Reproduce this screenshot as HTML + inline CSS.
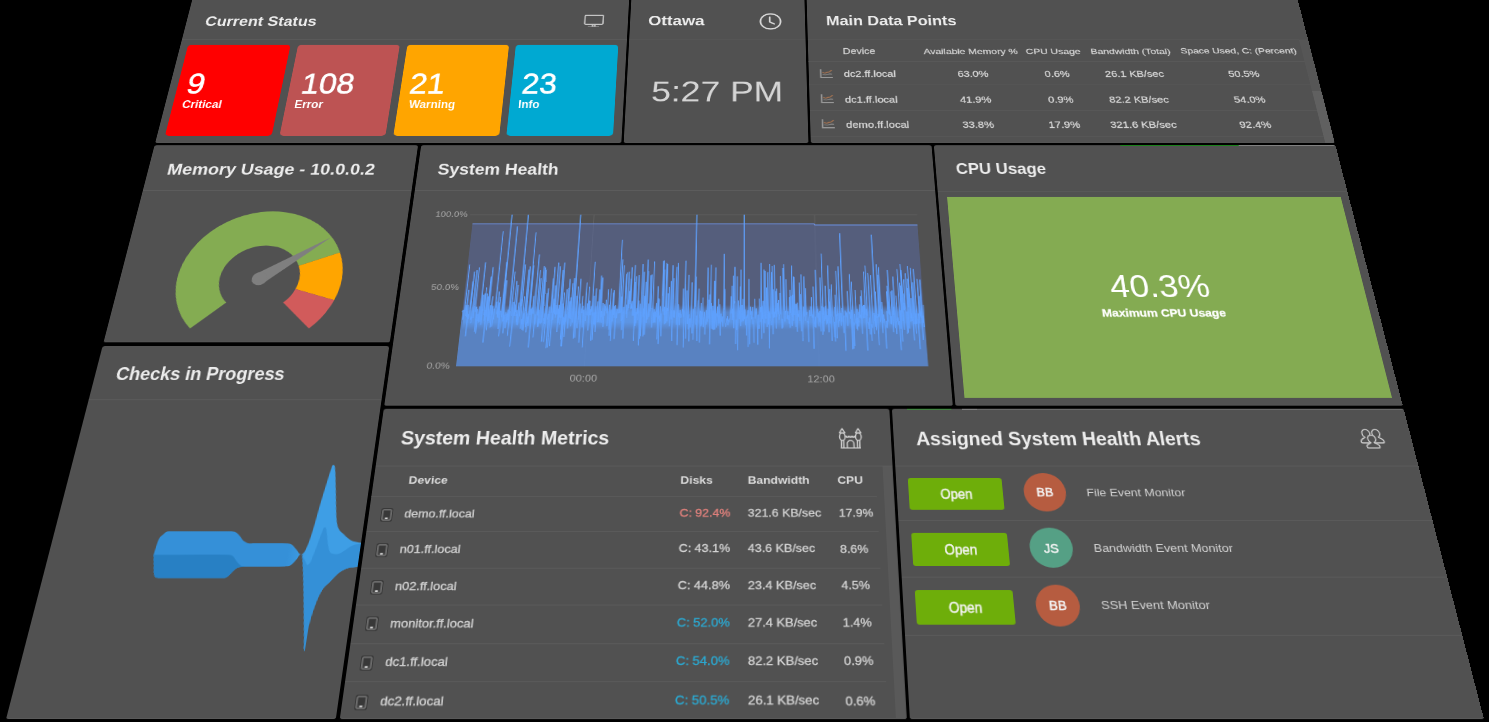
<!DOCTYPE html>
<html><head><meta charset="utf-8">
<style>
html,body{margin:0;padding:0;background:#000;width:1489px;height:722px;overflow:hidden;}
#flat{position:absolute;left:0;top:0;width:1489px;height:976px;overflow:hidden;transform-origin:0 0;transform:matrix3d(0.742923614,0,0,0,-0.192581104,0.552022748,0,-0.000258498126,0,0,1,0,191.521908,-0.337533928,0,1);font-family:"Liberation Sans",sans-serif;}
.p{position:absolute;background:#515151;overflow:hidden;border-radius:3px;box-shadow:inset 0 -1px 0 #5a5a5a;}
.hd{position:absolute;left:0;right:0;top:0;border-bottom:1px solid #5d5d5d;}
.a{position:absolute;white-space:nowrap;}
</style></head><body>
<div id="flat">
<div class="p" id="cs" style="left:1.00px;top:-6.00px;width:587.60px;height:248.70px;">
<div class="hd" style="height:76.30px"></div>
<div class="a" style="left:24.88px;top:30.61px;font-size:24.50px;line-height:27.37px;font-weight:bold;color:#ececec;transform:scaleX(0.872);transform-origin:left;">Current Status</div>
<svg class="a" style="left:528.00px;top:31.00px" width="30" height="26" viewBox="0 0 30 26"><rect x="2.6" y="3" width="24.3" height="16" rx="1.2" fill="none" stroke="#c4c4c4" stroke-width="1.9"/><rect x="7" y="22" width="15" height="1.5" fill="#8c8c8c"/><rect x="12.2" y="19.5" width="2.3" height="4" fill="#c4c4c4"/><rect x="15.2" y="19.5" width="2.3" height="4" fill="#c4c4c4"/></svg>
<div class="a" style="left:10.00px;top:85.90px;width:134.80px;height:152.30px;background:#ff0000;border-radius:5px"></div>
<div class="a" style="left:22.48px;top:125.30px;font-size:48.50px;line-height:54.17px;font-weight:normal;color:#ffffff;transform:scaleX(0.845);transform-origin:left;-webkit-text-stroke:0.9px #ffffff;">9</div>
<div class="a" style="left:22.20px;top:178.34px;font-size:17.80px;line-height:19.88px;font-weight:bold;color:#ffffff;transform:scaleX(0.840);transform-origin:left;">Critical</div>
<div class="a" style="left:154.50px;top:85.90px;width:134.70px;height:152.30px;background:#bd5353;border-radius:5px"></div>
<div class="a" style="left:170.29px;top:125.30px;font-size:48.50px;line-height:54.17px;font-weight:normal;color:#ffffff;transform:scaleX(0.845);transform-origin:left;-webkit-text-stroke:0.9px #ffffff;">108</div>
<div class="a" style="left:165.90px;top:178.01px;font-size:17.80px;line-height:19.88px;font-weight:bold;color:#ffffff;transform:scaleX(0.840);transform-origin:left;">Error</div>
<div class="a" style="left:299.00px;top:85.90px;width:133.60px;height:152.30px;background:#ffa500;border-radius:5px"></div>
<div class="a" style="left:309.69px;top:124.97px;font-size:48.50px;line-height:54.17px;font-weight:normal;color:#ffffff;transform:scaleX(0.845);transform-origin:left;-webkit-text-stroke:0.9px #ffffff;">21</div>
<div class="a" style="left:312.62px;top:177.52px;font-size:17.80px;line-height:19.88px;font-weight:bold;color:#ffffff;transform:scaleX(0.840);transform-origin:left;">Warning</div>
<div class="a" style="left:441.50px;top:85.90px;width:135.50px;height:152.30px;background:#00a9d2;border-radius:5px"></div>
<div class="a" style="left:454.84px;top:124.97px;font-size:48.50px;line-height:54.17px;font-weight:normal;color:#ffffff;transform:scaleX(0.845);transform-origin:left;-webkit-text-stroke:0.9px #ffffff;">23</div>
<div class="a" style="left:453.18px;top:177.52px;font-size:17.80px;line-height:19.88px;font-weight:bold;color:#ffffff;transform:scaleX(0.840);transform-origin:left;">Info</div>
</div>
<div class="p" id="ott" style="left:592.00px;top:-6.00px;width:233.00px;height:248.70px;">
<div class="hd" style="height:76.50px"></div>
<div class="a" style="left:24.05px;top:30.08px;font-size:24.50px;line-height:27.37px;font-weight:bold;color:#ececec;transform:scaleX(0.918);transform-origin:left;">Ottawa</div>
<svg class="a" style="left:170.90px;top:29.00px" width="32" height="32" viewBox="0 0 32 32"><circle cx="16" cy="16" r="13.4" fill="none" stroke="#d8d8d8" stroke-width="2.3"/><path d="M15 8.5 V17 L21 20.5" fill="none" stroke="#d8d8d8" stroke-width="2.3" stroke-linecap="round" stroke-linejoin="round"/></svg>
<div class="a" style="left:32.49px;top:138.76px;font-size:48.26px;line-height:53.91px;font-weight:normal;color:#d4d4d4;transform:scaleX(0.947);transform-origin:left;">5:27 PM</div>
</div>
<div class="p" id="mdp" style="left:828.00px;top:-6.00px;width:661.00px;height:248.70px;">
<div class="hd" style="height:76.90px"></div>
<div class="a" style="left:25.17px;top:29.73px;font-size:24.50px;line-height:27.37px;font-weight:bold;color:#ececec;transform:scaleX(0.880);transform-origin:left;">Main Data Points</div>
<div class="a" style="left:45.60px;top:89.53px;font-size:14.00px;line-height:15.64px;font-weight:normal;color:#d0d0d0;-webkit-text-stroke:0.35px #d4d4d4;">Device</div>
<div class="a" style="left:-286.50px;width:1000px;text-align:center;top:89.89px;font-size:13.60px;line-height:15.19px;font-weight:normal;color:#d0d0d0;-webkit-text-stroke:0.35px #d4d4d4;">Available Memory %</div>
<div class="a" style="left:-178.00px;width:1000px;text-align:center;top:89.89px;font-size:13.60px;line-height:15.19px;font-weight:normal;color:#d0d0d0;-webkit-text-stroke:0.35px #d4d4d4;">CPU Usage</div>
<div class="a" style="left:-76.40px;width:1000px;text-align:center;top:89.89px;font-size:13.60px;line-height:15.19px;font-weight:normal;color:#d0d0d0;-webkit-text-stroke:0.35px #d4d4d4;">Bandwidth (Total)</div>
<div class="a" style="left:65.80px;width:1000px;text-align:center;top:90.07px;font-size:13.40px;line-height:14.97px;font-weight:normal;color:#d0d0d0;-webkit-text-stroke:0.35px #d4d4d4;">Space Used, C: (Percent)</div>
<div class="a" style="left:0.00px;top:113.50px;width:649.00px;height:1px;background:#5b5b5b"></div>
<div class="a" style="left:0.00px;top:153.50px;width:649.00px;height:1px;background:#5b5b5b"></div>
<div class="a" style="left:0.00px;top:195.50px;width:649.00px;height:1px;background:#5b5b5b"></div>
<div class="a" style="left:0.00px;top:238.00px;width:649.00px;height:1px;background:#5b5b5b"></div>
<svg class="a" style="left:13.50px;top:126.70px" width="18" height="17" viewBox="0 0 18 17"><path d="M1.6 1.2 V15 H17" fill="none" stroke="#979797" stroke-width="1.8"/><path d="M3.6 6.6 L7 7.8 L10 6.2 L12.4 5.8 L16 2.6" fill="none" stroke="#a07050" stroke-width="1.6" stroke-linejoin="round"/><path d="M3.8 10.2 L8 10.6 L10.2 9.9 L13.4 9.0 L16.2 9.4" fill="none" stroke="#888888" stroke-width="1.4" stroke-linejoin="round"/></svg>
<div class="a" style="left:45.60px;top:129.15px;font-size:14.20px;line-height:15.86px;font-weight:normal;color:#d8d8d8;-webkit-text-stroke:0.35px #d4d4d4;">dc2.ff.local</div>
<div class="a" style="left:-286.50px;width:1000px;text-align:center;top:129.15px;font-size:14.20px;line-height:15.86px;font-weight:normal;color:#d8d8d8;-webkit-text-stroke:0.35px #d4d4d4;">63.0%</div>
<div class="a" style="left:-177.00px;width:1000px;text-align:center;top:129.15px;font-size:14.20px;line-height:15.86px;font-weight:normal;color:#d8d8d8;-webkit-text-stroke:0.35px #d4d4d4;">0.6%</div>
<div class="a" style="left:-76.40px;width:1000px;text-align:center;top:129.15px;font-size:14.20px;line-height:15.86px;font-weight:normal;color:#d8d8d8;-webkit-text-stroke:0.35px #d4d4d4;">26.1 KB/sec</div>
<div class="a" style="left:65.80px;width:1000px;text-align:center;top:129.15px;font-size:14.20px;line-height:15.86px;font-weight:normal;color:#d8d8d8;-webkit-text-stroke:0.35px #d4d4d4;">50.5%</div>
<svg class="a" style="left:13.50px;top:169.10px" width="18" height="17" viewBox="0 0 18 17"><path d="M1.6 1.2 V15 H17" fill="none" stroke="#979797" stroke-width="1.8"/><path d="M3.6 6.6 L7 7.8 L10 6.2 L12.4 5.8 L16 2.6" fill="none" stroke="#a07050" stroke-width="1.6" stroke-linejoin="round"/><path d="M3.8 10.2 L8 10.6 L10.2 9.9 L13.4 9.0 L16.2 9.4" fill="none" stroke="#888888" stroke-width="1.4" stroke-linejoin="round"/></svg>
<div class="a" style="left:45.60px;top:171.55px;font-size:14.20px;line-height:15.86px;font-weight:normal;color:#d8d8d8;-webkit-text-stroke:0.35px #d4d4d4;">dc1.ff.local</div>
<div class="a" style="left:-286.50px;width:1000px;text-align:center;top:171.55px;font-size:14.20px;line-height:15.86px;font-weight:normal;color:#d8d8d8;-webkit-text-stroke:0.35px #d4d4d4;">41.9%</div>
<div class="a" style="left:-177.00px;width:1000px;text-align:center;top:171.55px;font-size:14.20px;line-height:15.86px;font-weight:normal;color:#d8d8d8;-webkit-text-stroke:0.35px #d4d4d4;">0.9%</div>
<div class="a" style="left:-76.40px;width:1000px;text-align:center;top:171.55px;font-size:14.20px;line-height:15.86px;font-weight:normal;color:#d8d8d8;-webkit-text-stroke:0.35px #d4d4d4;">82.2 KB/sec</div>
<div class="a" style="left:65.80px;width:1000px;text-align:center;top:171.55px;font-size:14.20px;line-height:15.86px;font-weight:normal;color:#d8d8d8;-webkit-text-stroke:0.35px #d4d4d4;">54.0%</div>
<svg class="a" style="left:13.50px;top:210.40px" width="18" height="17" viewBox="0 0 18 17"><path d="M1.6 1.2 V15 H17" fill="none" stroke="#979797" stroke-width="1.8"/><path d="M3.6 6.6 L7 7.8 L10 6.2 L12.4 5.8 L16 2.6" fill="none" stroke="#a07050" stroke-width="1.6" stroke-linejoin="round"/><path d="M3.8 10.2 L8 10.6 L10.2 9.9 L13.4 9.0 L16.2 9.4" fill="none" stroke="#888888" stroke-width="1.4" stroke-linejoin="round"/></svg>
<div class="a" style="left:45.60px;top:212.85px;font-size:14.20px;line-height:15.86px;font-weight:normal;color:#d8d8d8;-webkit-text-stroke:0.35px #d4d4d4;">demo.ff.local</div>
<div class="a" style="left:-286.50px;width:1000px;text-align:center;top:212.85px;font-size:14.20px;line-height:15.86px;font-weight:normal;color:#d8d8d8;-webkit-text-stroke:0.35px #d4d4d4;">33.8%</div>
<div class="a" style="left:-177.00px;width:1000px;text-align:center;top:212.85px;font-size:14.20px;line-height:15.86px;font-weight:normal;color:#d8d8d8;-webkit-text-stroke:0.35px #d4d4d4;">17.9%</div>
<div class="a" style="left:-76.40px;width:1000px;text-align:center;top:212.85px;font-size:14.20px;line-height:15.86px;font-weight:normal;color:#d8d8d8;-webkit-text-stroke:0.35px #d4d4d4;">321.6 KB/sec</div>
<div class="a" style="left:65.80px;width:1000px;text-align:center;top:212.85px;font-size:14.20px;line-height:15.86px;font-weight:normal;color:#d8d8d8;-webkit-text-stroke:0.35px #d4d4d4;">92.4%</div>
<div class="a" style="left:649.00px;top:77.00px;width:12px;height:88.00px;background:#565656"></div>
<div class="a" style="left:649.00px;top:165.00px;width:12px;height:90.00px;background:#606060"></div>
</div>
<div class="p" id="mem" style="left:1.00px;top:246.50px;width:331.80px;height:288.80px;">
<div class="hd" style="height:70.00px"></div>
<div class="a" style="left:23.50px;top:24.28px;font-size:24.50px;line-height:27.37px;font-weight:bold;color:#ececec;transform:scaleX(0.909);transform-origin:left;">Memory Usage - 10.0.0.2</div>
<svg class="a" style="left:0;top:0" width="340" height="300"><path d="M96.70 269.30 A98.00 98.00 0 1 1 256.54 162.50 L209.88 181.82 A47.50 47.50 0 1 0 132.41 233.59 Z" fill="#84ac52"/><path d="M256.54 162.50 A98.00 98.00 0 0 1 259.20 230.28 L211.18 214.68 A47.50 47.50 0 0 0 209.88 181.82 Z" fill="#ffa500"/><path d="M259.20 230.28 A98.00 98.00 0 0 1 235.30 269.30 L199.59 233.59 A47.50 47.50 0 0 0 211.18 214.68 Z" fill="#d15b5b"/><path d="M171.28 206.79 L242.54 140.41 L160.72 193.21 Z" fill="#7f7f7f"/><circle cx="166.00" cy="200.00" r="9.2" fill="#7f7f7f"/></svg>
</div>
<div class="p" id="sh" style="left:337.00px;top:246.50px;width:643.00px;height:371.50px;">
<div class="hd" style="height:70.90px"></div>
<div class="a" style="left:24.66px;top:24.43px;font-size:24.50px;line-height:27.37px;font-weight:bold;color:#ececec;transform:scaleX(0.892);transform-origin:left;">System Health</div>
<svg class="a" style="left:0;top:0" width="650" height="380"><line x1="71.7" y1="106.90" x2="618.5" y2="106.90" stroke="#5e5e5e" stroke-width="1"/><line x1="223.50" y1="106.90" x2="223.50" y2="319.90" stroke="#606060" stroke-width="1"/><line x1="493.00" y1="106.90" x2="493.00" y2="319.90" stroke="#606060" stroke-width="1"/><path d="M76.0 319.90 L76.0 120.53 L77.0 120.53 L78.0 120.53 L79.0 120.53 L80.0 120.53 L81.0 120.53 L82.0 120.53 L83.0 120.53 L84.0 120.53 L85.0 120.53 L86.0 120.53 L87.0 120.53 L88.0 120.53 L89.0 120.53 L90.0 120.53 L91.0 120.53 L92.0 120.53 L93.0 120.53 L94.0 120.53 L95.0 120.53 L96.0 120.53 L97.0 120.53 L98.0 120.53 L99.0 120.53 L100.0 120.53 L101.0 120.53 L102.0 120.53 L103.0 120.53 L104.0 120.53 L105.0 120.53 L106.0 120.53 L107.0 120.53 L108.0 120.53 L109.0 120.53 L110.0 120.53 L111.0 120.53 L112.0 120.53 L113.0 120.53 L114.0 120.53 L115.0 120.53 L116.0 120.53 L117.0 120.53 L118.0 120.53 L119.0 120.53 L120.0 120.53 L121.0 120.53 L122.0 120.53 L123.0 120.53 L124.0 120.53 L125.0 120.53 L126.0 120.53 L127.0 120.53 L128.0 120.53 L129.0 120.53 L130.0 120.53 L131.0 120.53 L132.0 120.53 L133.0 120.53 L134.0 120.53 L135.0 120.53 L136.0 120.53 L137.0 120.53 L138.0 120.53 L139.0 120.53 L140.0 120.53 L141.0 120.53 L142.0 120.53 L143.0 120.53 L144.0 120.53 L145.0 120.53 L146.0 120.53 L147.0 120.53 L148.0 120.53 L149.0 120.53 L150.0 120.53 L151.0 120.53 L152.0 120.53 L153.0 120.53 L154.0 120.53 L155.0 120.53 L156.0 120.53 L157.0 120.53 L158.0 120.53 L159.0 120.53 L160.0 120.53 L161.0 120.53 L162.0 120.53 L163.0 120.53 L164.0 120.53 L165.0 120.53 L166.0 120.53 L167.0 120.53 L168.0 120.53 L169.0 120.53 L170.0 120.53 L171.0 120.53 L172.0 120.53 L173.0 120.53 L174.0 120.53 L175.0 120.53 L176.0 120.53 L177.0 120.53 L178.0 120.53 L179.0 120.53 L180.0 120.53 L181.0 120.53 L182.0 120.53 L183.0 120.53 L184.0 120.53 L185.0 120.53 L186.0 120.53 L187.0 120.53 L188.0 120.53 L189.0 120.53 L190.0 120.53 L191.0 120.53 L192.0 120.53 L193.0 120.53 L194.0 120.53 L195.0 120.53 L196.0 120.53 L197.0 120.53 L198.0 120.53 L199.0 120.53 L200.0 120.53 L201.0 120.53 L202.0 120.53 L203.0 120.53 L204.0 120.53 L205.0 120.53 L206.0 120.53 L207.0 120.53 L208.0 120.53 L209.0 120.53 L210.0 120.53 L211.0 120.53 L212.0 120.53 L213.0 120.53 L214.0 120.53 L215.0 120.53 L216.0 120.53 L217.0 120.53 L218.0 120.53 L219.0 120.53 L220.0 120.53 L221.0 120.53 L222.0 120.53 L223.0 120.53 L224.0 120.53 L225.0 120.53 L226.0 120.53 L227.0 120.53 L228.0 120.53 L229.0 120.53 L230.0 120.53 L231.0 120.53 L232.0 120.53 L233.0 120.53 L234.0 120.53 L235.0 120.53 L236.0 120.53 L237.0 120.53 L238.0 120.53 L239.0 120.53 L240.0 120.53 L241.0 120.53 L242.0 120.53 L243.0 120.53 L244.0 120.53 L245.0 120.53 L246.0 120.53 L247.0 120.53 L248.0 120.53 L249.0 120.53 L250.0 120.53 L251.0 120.53 L252.0 120.53 L253.0 120.53 L254.0 120.53 L255.0 120.53 L256.0 120.53 L257.0 120.53 L258.0 120.53 L259.0 120.53 L260.0 120.53 L261.0 120.53 L262.0 120.53 L263.0 120.53 L264.0 120.53 L265.0 120.53 L266.0 120.53 L267.0 120.53 L268.0 120.53 L269.0 120.53 L270.0 120.53 L271.0 120.53 L272.0 120.53 L273.0 120.53 L274.0 120.53 L275.0 120.53 L276.0 120.53 L277.0 120.53 L278.0 120.53 L279.0 120.53 L280.0 120.53 L281.0 120.53 L282.0 120.53 L283.0 120.53 L284.0 120.53 L285.0 120.53 L286.0 120.53 L287.0 120.53 L288.0 120.53 L289.0 120.53 L290.0 120.53 L291.0 120.53 L292.0 120.53 L293.0 120.53 L294.0 120.53 L295.0 120.53 L296.0 120.53 L297.0 120.53 L298.0 120.53 L299.0 120.53 L300.0 120.53 L301.0 120.53 L302.0 120.53 L303.0 120.53 L304.0 120.53 L305.0 120.53 L306.0 120.53 L307.0 120.53 L308.0 120.53 L309.0 120.53 L310.0 120.53 L311.0 120.53 L312.0 120.53 L313.0 120.53 L314.0 120.53 L315.0 120.53 L316.0 120.53 L317.0 120.53 L318.0 120.53 L319.0 120.53 L320.0 120.53 L321.0 120.53 L322.0 120.53 L323.0 120.53 L324.0 120.53 L325.0 120.53 L326.0 120.53 L327.0 120.53 L328.0 120.53 L329.0 120.53 L330.0 120.53 L331.0 120.53 L332.0 120.53 L333.0 120.53 L334.0 120.53 L335.0 120.53 L336.0 120.53 L337.0 120.53 L338.0 120.53 L339.0 120.53 L340.0 120.53 L341.0 120.53 L342.0 120.53 L343.0 120.53 L344.0 120.53 L345.0 120.53 L346.0 120.53 L347.0 120.53 L348.0 120.53 L349.0 120.53 L350.0 120.53 L351.0 120.53 L352.0 120.53 L353.0 120.53 L354.0 120.53 L355.0 120.53 L356.0 120.53 L357.0 120.53 L358.0 120.53 L359.0 120.53 L360.0 120.53 L361.0 120.53 L362.0 120.53 L363.0 120.53 L364.0 120.53 L365.0 120.53 L366.0 120.53 L367.0 120.53 L368.0 120.53 L369.0 120.53 L370.0 120.53 L371.0 120.53 L372.0 120.53 L373.0 120.53 L374.0 120.53 L375.0 120.53 L376.0 120.53 L377.0 120.53 L378.0 120.53 L379.0 120.53 L380.0 120.53 L381.0 120.53 L382.0 120.53 L383.0 120.53 L384.0 120.53 L385.0 120.53 L386.0 120.53 L387.0 120.53 L388.0 120.53 L389.0 120.53 L390.0 120.53 L391.0 120.53 L392.0 120.53 L393.0 120.53 L394.0 120.53 L395.0 120.53 L396.0 120.53 L397.0 120.53 L398.0 120.53 L399.0 120.53 L400.0 120.53 L401.0 120.53 L402.0 120.53 L403.0 120.53 L404.0 120.53 L405.0 120.53 L406.0 120.53 L407.0 120.53 L408.0 120.53 L409.0 120.53 L410.0 120.53 L411.0 120.53 L412.0 120.53 L413.0 120.53 L414.0 120.53 L415.0 120.53 L416.0 120.53 L417.0 120.53 L418.0 120.53 L419.0 120.53 L420.0 120.53 L421.0 120.53 L422.0 120.53 L423.0 120.53 L424.0 120.53 L425.0 120.53 L426.0 120.53 L427.0 120.53 L428.0 120.53 L429.0 120.53 L430.0 120.53 L431.0 120.53 L432.0 120.53 L433.0 120.53 L434.0 120.53 L435.0 120.53 L436.0 120.53 L437.0 120.53 L438.0 120.53 L439.0 120.53 L440.0 120.53 L441.0 120.53 L442.0 120.53 L443.0 120.53 L444.0 120.53 L445.0 120.53 L446.0 120.53 L447.0 120.53 L448.0 120.53 L449.0 120.53 L450.0 120.53 L451.0 120.53 L452.0 120.53 L453.0 120.53 L454.0 120.53 L455.0 120.53 L456.0 120.53 L457.0 120.53 L458.0 120.53 L459.0 120.53 L460.0 120.53 L461.0 120.53 L462.0 120.53 L463.0 120.53 L464.0 120.53 L465.0 120.53 L466.0 120.53 L467.0 120.53 L468.0 120.53 L469.0 120.53 L470.0 120.53 L471.0 120.53 L472.0 120.53 L473.0 120.53 L474.0 120.53 L475.0 120.53 L476.0 120.53 L477.0 120.53 L478.0 120.53 L479.0 120.53 L480.0 120.53 L481.0 120.53 L482.0 120.53 L483.0 120.53 L484.0 120.53 L485.0 120.53 L486.0 120.53 L487.0 120.53 L488.0 120.53 L489.0 120.53 L490.0 120.53 L491.0 120.53 L492.0 120.53 L493.0 122.24 L494.0 122.24 L495.0 122.24 L496.0 122.24 L497.0 122.24 L498.0 122.24 L499.0 122.24 L500.0 122.24 L501.0 122.24 L502.0 122.24 L503.0 122.24 L504.0 122.24 L505.0 122.24 L506.0 122.24 L507.0 122.24 L508.0 122.24 L509.0 122.24 L510.0 122.24 L511.0 122.24 L512.0 122.24 L513.0 122.24 L514.0 122.24 L515.0 122.24 L516.0 122.24 L517.0 122.24 L518.0 122.24 L519.0 122.24 L520.0 122.24 L521.0 122.24 L522.0 122.24 L523.0 122.24 L524.0 122.24 L525.0 122.24 L526.0 122.24 L527.0 122.24 L528.0 122.24 L529.0 122.24 L530.0 122.24 L531.0 122.24 L532.0 122.24 L533.0 122.24 L534.0 122.24 L535.0 122.24 L536.0 122.24 L537.0 122.24 L538.0 122.24 L539.0 122.24 L540.0 122.24 L541.0 122.24 L542.0 122.24 L543.0 122.24 L544.0 122.24 L545.0 122.24 L546.0 122.24 L547.0 122.24 L548.0 122.24 L549.0 122.24 L550.0 122.24 L551.0 122.24 L552.0 122.24 L553.0 122.24 L554.0 122.24 L555.0 122.24 L556.0 122.24 L557.0 122.24 L558.0 122.24 L559.0 122.24 L560.0 122.24 L561.0 122.24 L562.0 122.24 L563.0 122.24 L564.0 122.24 L565.0 122.24 L566.0 122.24 L567.0 122.24 L568.0 122.24 L569.0 122.24 L570.0 122.24 L571.0 122.24 L572.0 122.24 L573.0 122.24 L574.0 122.24 L575.0 122.24 L576.0 122.24 L577.0 122.24 L578.0 122.24 L579.0 122.24 L580.0 122.24 L581.0 122.24 L582.0 122.24 L583.0 122.24 L584.0 122.24 L585.0 122.24 L586.0 122.24 L587.0 122.24 L588.0 122.24 L589.0 122.24 L590.0 122.24 L591.0 122.24 L592.0 122.24 L593.0 122.24 L594.0 122.24 L595.0 122.24 L596.0 122.24 L597.0 122.24 L598.0 122.24 L599.0 122.24 L600.0 122.24 L601.0 122.24 L602.0 122.24 L603.0 122.24 L604.0 122.24 L605.0 122.24 L606.0 122.24 L607.0 122.24 L608.0 122.24 L609.0 122.24 L610.0 122.24 L611.0 122.24 L612.0 122.24 L613.0 122.24 L614.0 122.24 L615.0 122.24 L616.0 122.24 L617.0 122.24 L618.0 122.24 L618.5 319.90 Z" fill="#5a6aa0" fill-opacity="0.55"/><polyline points="76.0,120.53 77.0,120.53 78.0,120.53 79.0,120.53 80.0,120.53 81.0,120.53 82.0,120.53 83.0,120.53 84.0,120.53 85.0,120.53 86.0,120.53 87.0,120.53 88.0,120.53 89.0,120.53 90.0,120.53 91.0,120.53 92.0,120.53 93.0,120.53 94.0,120.53 95.0,120.53 96.0,120.53 97.0,120.53 98.0,120.53 99.0,120.53 100.0,120.53 101.0,120.53 102.0,120.53 103.0,120.53 104.0,120.53 105.0,120.53 106.0,120.53 107.0,120.53 108.0,120.53 109.0,120.53 110.0,120.53 111.0,120.53 112.0,120.53 113.0,120.53 114.0,120.53 115.0,120.53 116.0,120.53 117.0,120.53 118.0,120.53 119.0,120.53 120.0,120.53 121.0,120.53 122.0,120.53 123.0,120.53 124.0,120.53 125.0,120.53 126.0,120.53 127.0,120.53 128.0,120.53 129.0,120.53 130.0,120.53 131.0,120.53 132.0,120.53 133.0,120.53 134.0,120.53 135.0,120.53 136.0,120.53 137.0,120.53 138.0,120.53 139.0,120.53 140.0,120.53 141.0,120.53 142.0,120.53 143.0,120.53 144.0,120.53 145.0,120.53 146.0,120.53 147.0,120.53 148.0,120.53 149.0,120.53 150.0,120.53 151.0,120.53 152.0,120.53 153.0,120.53 154.0,120.53 155.0,120.53 156.0,120.53 157.0,120.53 158.0,120.53 159.0,120.53 160.0,120.53 161.0,120.53 162.0,120.53 163.0,120.53 164.0,120.53 165.0,120.53 166.0,120.53 167.0,120.53 168.0,120.53 169.0,120.53 170.0,120.53 171.0,120.53 172.0,120.53 173.0,120.53 174.0,120.53 175.0,120.53 176.0,120.53 177.0,120.53 178.0,120.53 179.0,120.53 180.0,120.53 181.0,120.53 182.0,120.53 183.0,120.53 184.0,120.53 185.0,120.53 186.0,120.53 187.0,120.53 188.0,120.53 189.0,120.53 190.0,120.53 191.0,120.53 192.0,120.53 193.0,120.53 194.0,120.53 195.0,120.53 196.0,120.53 197.0,120.53 198.0,120.53 199.0,120.53 200.0,120.53 201.0,120.53 202.0,120.53 203.0,120.53 204.0,120.53 205.0,120.53 206.0,120.53 207.0,120.53 208.0,120.53 209.0,120.53 210.0,120.53 211.0,120.53 212.0,120.53 213.0,120.53 214.0,120.53 215.0,120.53 216.0,120.53 217.0,120.53 218.0,120.53 219.0,120.53 220.0,120.53 221.0,120.53 222.0,120.53 223.0,120.53 224.0,120.53 225.0,120.53 226.0,120.53 227.0,120.53 228.0,120.53 229.0,120.53 230.0,120.53 231.0,120.53 232.0,120.53 233.0,120.53 234.0,120.53 235.0,120.53 236.0,120.53 237.0,120.53 238.0,120.53 239.0,120.53 240.0,120.53 241.0,120.53 242.0,120.53 243.0,120.53 244.0,120.53 245.0,120.53 246.0,120.53 247.0,120.53 248.0,120.53 249.0,120.53 250.0,120.53 251.0,120.53 252.0,120.53 253.0,120.53 254.0,120.53 255.0,120.53 256.0,120.53 257.0,120.53 258.0,120.53 259.0,120.53 260.0,120.53 261.0,120.53 262.0,120.53 263.0,120.53 264.0,120.53 265.0,120.53 266.0,120.53 267.0,120.53 268.0,120.53 269.0,120.53 270.0,120.53 271.0,120.53 272.0,120.53 273.0,120.53 274.0,120.53 275.0,120.53 276.0,120.53 277.0,120.53 278.0,120.53 279.0,120.53 280.0,120.53 281.0,120.53 282.0,120.53 283.0,120.53 284.0,120.53 285.0,120.53 286.0,120.53 287.0,120.53 288.0,120.53 289.0,120.53 290.0,120.53 291.0,120.53 292.0,120.53 293.0,120.53 294.0,120.53 295.0,120.53 296.0,120.53 297.0,120.53 298.0,120.53 299.0,120.53 300.0,120.53 301.0,120.53 302.0,120.53 303.0,120.53 304.0,120.53 305.0,120.53 306.0,120.53 307.0,120.53 308.0,120.53 309.0,120.53 310.0,120.53 311.0,120.53 312.0,120.53 313.0,120.53 314.0,120.53 315.0,120.53 316.0,120.53 317.0,120.53 318.0,120.53 319.0,120.53 320.0,120.53 321.0,120.53 322.0,120.53 323.0,120.53 324.0,120.53 325.0,120.53 326.0,120.53 327.0,120.53 328.0,120.53 329.0,120.53 330.0,120.53 331.0,120.53 332.0,120.53 333.0,120.53 334.0,120.53 335.0,120.53 336.0,120.53 337.0,120.53 338.0,120.53 339.0,120.53 340.0,120.53 341.0,120.53 342.0,120.53 343.0,120.53 344.0,120.53 345.0,120.53 346.0,120.53 347.0,120.53 348.0,120.53 349.0,120.53 350.0,120.53 351.0,120.53 352.0,120.53 353.0,120.53 354.0,120.53 355.0,120.53 356.0,120.53 357.0,120.53 358.0,120.53 359.0,120.53 360.0,120.53 361.0,120.53 362.0,120.53 363.0,120.53 364.0,120.53 365.0,120.53 366.0,120.53 367.0,120.53 368.0,120.53 369.0,120.53 370.0,120.53 371.0,120.53 372.0,120.53 373.0,120.53 374.0,120.53 375.0,120.53 376.0,120.53 377.0,120.53 378.0,120.53 379.0,120.53 380.0,120.53 381.0,120.53 382.0,120.53 383.0,120.53 384.0,120.53 385.0,120.53 386.0,120.53 387.0,120.53 388.0,120.53 389.0,120.53 390.0,120.53 391.0,120.53 392.0,120.53 393.0,120.53 394.0,120.53 395.0,120.53 396.0,120.53 397.0,120.53 398.0,120.53 399.0,120.53 400.0,120.53 401.0,120.53 402.0,120.53 403.0,120.53 404.0,120.53 405.0,120.53 406.0,120.53 407.0,120.53 408.0,120.53 409.0,120.53 410.0,120.53 411.0,120.53 412.0,120.53 413.0,120.53 414.0,120.53 415.0,120.53 416.0,120.53 417.0,120.53 418.0,120.53 419.0,120.53 420.0,120.53 421.0,120.53 422.0,120.53 423.0,120.53 424.0,120.53 425.0,120.53 426.0,120.53 427.0,120.53 428.0,120.53 429.0,120.53 430.0,120.53 431.0,120.53 432.0,120.53 433.0,120.53 434.0,120.53 435.0,120.53 436.0,120.53 437.0,120.53 438.0,120.53 439.0,120.53 440.0,120.53 441.0,120.53 442.0,120.53 443.0,120.53 444.0,120.53 445.0,120.53 446.0,120.53 447.0,120.53 448.0,120.53 449.0,120.53 450.0,120.53 451.0,120.53 452.0,120.53 453.0,120.53 454.0,120.53 455.0,120.53 456.0,120.53 457.0,120.53 458.0,120.53 459.0,120.53 460.0,120.53 461.0,120.53 462.0,120.53 463.0,120.53 464.0,120.53 465.0,120.53 466.0,120.53 467.0,120.53 468.0,120.53 469.0,120.53 470.0,120.53 471.0,120.53 472.0,120.53 473.0,120.53 474.0,120.53 475.0,120.53 476.0,120.53 477.0,120.53 478.0,120.53 479.0,120.53 480.0,120.53 481.0,120.53 482.0,120.53 483.0,120.53 484.0,120.53 485.0,120.53 486.0,120.53 487.0,120.53 488.0,120.53 489.0,120.53 490.0,120.53 491.0,120.53 492.0,120.53 493.0,122.24 494.0,122.24 495.0,122.24 496.0,122.24 497.0,122.24 498.0,122.24 499.0,122.24 500.0,122.24 501.0,122.24 502.0,122.24 503.0,122.24 504.0,122.24 505.0,122.24 506.0,122.24 507.0,122.24 508.0,122.24 509.0,122.24 510.0,122.24 511.0,122.24 512.0,122.24 513.0,122.24 514.0,122.24 515.0,122.24 516.0,122.24 517.0,122.24 518.0,122.24 519.0,122.24 520.0,122.24 521.0,122.24 522.0,122.24 523.0,122.24 524.0,122.24 525.0,122.24 526.0,122.24 527.0,122.24 528.0,122.24 529.0,122.24 530.0,122.24 531.0,122.24 532.0,122.24 533.0,122.24 534.0,122.24 535.0,122.24 536.0,122.24 537.0,122.24 538.0,122.24 539.0,122.24 540.0,122.24 541.0,122.24 542.0,122.24 543.0,122.24 544.0,122.24 545.0,122.24 546.0,122.24 547.0,122.24 548.0,122.24 549.0,122.24 550.0,122.24 551.0,122.24 552.0,122.24 553.0,122.24 554.0,122.24 555.0,122.24 556.0,122.24 557.0,122.24 558.0,122.24 559.0,122.24 560.0,122.24 561.0,122.24 562.0,122.24 563.0,122.24 564.0,122.24 565.0,122.24 566.0,122.24 567.0,122.24 568.0,122.24 569.0,122.24 570.0,122.24 571.0,122.24 572.0,122.24 573.0,122.24 574.0,122.24 575.0,122.24 576.0,122.24 577.0,122.24 578.0,122.24 579.0,122.24 580.0,122.24 581.0,122.24 582.0,122.24 583.0,122.24 584.0,122.24 585.0,122.24 586.0,122.24 587.0,122.24 588.0,122.24 589.0,122.24 590.0,122.24 591.0,122.24 592.0,122.24 593.0,122.24 594.0,122.24 595.0,122.24 596.0,122.24 597.0,122.24 598.0,122.24 599.0,122.24 600.0,122.24 601.0,122.24 602.0,122.24 603.0,122.24 604.0,122.24 605.0,122.24 606.0,122.24 607.0,122.24 608.0,122.24 609.0,122.24 610.0,122.24 611.0,122.24 612.0,122.24 613.0,122.24 614.0,122.24 615.0,122.24 616.0,122.24 617.0,122.24 618.0,122.24" fill="none" stroke="#6b8fe0" stroke-width="1.3"/><path d="M76.0 319.90 L76.00 245.10 L76.40 247.08 L76.80 243.97 L77.20 244.02 L77.60 257.30 L78.00 253.24 L78.40 179.88 L78.80 245.74 L79.20 244.89 L79.60 243.31 L80.00 237.15 L80.40 251.89 L80.80 215.87 L81.20 249.57 L81.60 253.52 L82.00 236.80 L82.40 244.39 L82.80 279.91 L83.20 262.71 L83.60 249.43 L84.00 256.23 L84.40 203.92 L84.80 241.93 L85.20 190.02 L85.60 239.24 L86.00 242.39 L86.40 254.13 L86.80 257.53 L87.20 253.32 L87.60 262.19 L88.00 188.05 L88.40 245.89 L88.80 244.74 L89.20 255.20 L89.60 237.57 L90.00 220.33 L90.40 184.25 L90.80 213.07 L91.20 246.56 L91.60 238.90 L92.00 242.96 L92.40 239.95 L92.80 273.70 L93.20 265.36 L93.60 242.70 L94.00 267.02 L94.40 276.17 L94.80 249.39 L95.20 258.74 L95.60 256.37 L96.00 238.85 L96.40 261.13 L96.80 249.19 L97.20 176.77 L97.60 235.80 L98.00 260.03 L98.40 237.04 L98.80 222.82 L99.20 264.37 L99.60 239.61 L100.00 226.52 L100.40 220.91 L100.80 228.55 L101.20 244.70 L101.60 212.54 L102.00 251.03 L102.40 244.10 L102.80 258.57 L103.20 220.83 L103.60 245.45 L104.00 288.45 L104.40 225.20 L104.80 253.09 L105.20 248.73 L105.60 197.23 L106.00 238.11 L106.40 271.70 L106.80 183.72 L107.20 258.97 L107.60 251.04 L108.00 241.80 L108.40 237.34 L108.80 261.65 L109.20 246.09 L109.60 236.32 L110.00 224.93 L110.40 267.81 L110.80 237.73 L111.20 250.60 L111.60 239.02 L112.00 266.65 L112.40 265.84 L112.80 250.35 L113.20 241.91 L113.60 257.04 L114.00 235.67 L114.40 131.55 L114.80 240.67 L115.20 240.49 L115.60 232.60 L116.00 238.37 L116.40 249.55 L116.80 248.78 L117.20 218.19 L117.60 253.65 L118.00 236.99 L118.40 233.63 L118.80 255.03 L119.20 225.82 L119.60 238.15 L120.00 269.94 L120.40 251.64 L120.80 244.90 L121.20 269.21 L121.60 279.85 L122.00 273.80 L122.40 176.29 L122.80 253.85 L123.20 106.90 L123.60 239.76 L124.00 253.70 L124.40 259.48 L124.80 202.38 L125.20 258.86 L125.60 250.40 L126.00 275.89 L126.40 256.09 L126.80 251.08 L127.20 247.16 L127.60 252.58 L128.00 268.84 L128.40 260.47 L128.80 248.78 L129.20 260.57 L129.60 243.61 L130.00 251.93 L130.40 258.09 L130.80 234.39 L131.20 124.40 L131.60 279.20 L132.00 253.64 L132.40 245.14 L132.80 244.63 L133.20 213.72 L133.60 189.99 L134.00 243.95 L134.40 251.75 L134.80 236.05 L135.20 232.90 L135.60 293.59 L136.00 277.42 L136.40 246.16 L136.80 203.30 L137.20 251.88 L137.60 243.17 L138.00 236.46 L138.40 247.08 L138.80 208.93 L139.20 252.09 L139.60 248.89 L140.00 244.20 L140.40 260.74 L140.80 249.47 L141.20 264.03 L141.60 233.66 L142.00 264.78 L142.40 258.10 L142.80 250.03 L143.20 106.90 L143.60 252.74 L144.00 228.49 L144.40 238.89 L144.80 232.52 L145.20 179.78 L145.60 239.40 L146.00 269.60 L146.40 264.25 L146.80 256.11 L147.20 263.57 L147.60 224.88 L148.00 270.94 L148.40 248.53 L148.80 256.94 L149.20 272.26 L149.60 213.89 L150.00 187.18 L150.40 245.05 L150.80 239.01 L151.20 182.48 L151.60 267.32 L152.00 248.59 L152.40 259.57 L152.80 274.39 L153.20 252.87 L153.60 262.35 L154.00 244.48 L154.40 133.40 L154.80 265.84 L155.20 181.40 L155.60 247.62 L156.00 250.75 L156.40 242.35 L156.80 243.64 L157.20 294.85 L157.60 240.68 L158.00 248.54 L158.40 224.54 L158.80 240.04 L159.20 249.39 L159.60 246.02 L160.00 213.55 L160.40 206.07 L160.80 165.53 L161.20 238.69 L161.60 281.39 L162.00 249.50 L162.40 263.59 L162.80 256.12 L163.20 244.14 L163.60 188.20 L164.00 232.09 L164.40 244.68 L164.80 251.42 L165.20 199.35 L165.60 267.10 L166.00 243.63 L166.40 266.58 L166.80 255.73 L167.20 261.49 L167.60 208.44 L168.00 182.14 L168.40 263.19 L168.80 259.91 L169.20 260.08 L169.60 184.29 L170.00 261.64 L170.40 250.01 L170.80 187.70 L171.20 263.15 L171.60 286.88 L172.00 287.26 L172.40 259.24 L172.80 249.48 L173.20 248.43 L173.60 263.06 L174.00 220.40 L174.40 287.43 L174.80 251.26 L175.20 213.70 L175.60 250.51 L176.00 253.47 L176.40 256.99 L176.80 254.61 L177.20 248.90 L177.60 295.98 L178.00 239.36 L178.40 248.75 L178.80 257.13 L179.20 294.82 L179.60 281.64 L180.00 199.61 L180.40 247.57 L180.80 183.21 L181.20 238.62 L181.60 293.10 L182.00 259.69 L182.40 228.44 L182.80 257.68 L183.20 209.60 L183.60 247.47 L184.00 233.97 L184.40 249.77 L184.80 177.34 L185.20 243.48 L185.60 254.54 L186.00 237.15 L186.40 250.03 L186.80 250.41 L187.20 182.41 L187.60 246.95 L188.00 249.89 L188.40 242.39 L188.80 274.08 L189.20 236.82 L189.60 261.56 L190.00 238.63 L190.40 254.30 L190.80 188.03 L191.20 249.65 L191.60 263.66 L192.00 177.25 L192.40 202.42 L192.80 254.50 L193.20 234.84 L193.60 284.25 L194.00 258.82 L194.40 219.57 L194.80 293.27 L195.20 253.19 L195.60 293.27 L196.00 254.79 L196.40 263.71 L196.80 248.14 L197.20 215.22 L197.60 281.02 L198.00 249.76 L198.40 259.62 L198.80 255.94 L199.20 213.03 L199.60 243.60 L200.00 200.50 L200.40 245.31 L200.80 269.30 L201.20 254.71 L201.60 231.77 L202.00 254.92 L202.40 226.51 L202.80 240.98 L203.20 256.18 L203.60 206.57 L204.00 240.91 L204.40 266.28 L204.80 264.10 L205.20 199.26 L205.60 235.16 L206.00 254.96 L206.40 261.14 L206.80 184.79 L207.20 106.90 L207.60 246.17 L208.00 251.03 L208.40 283.04 L208.80 244.60 L209.20 224.11 L209.60 257.53 L210.00 281.68 L210.40 211.25 L210.80 253.96 L211.20 261.44 L211.60 264.87 L212.00 268.77 L212.40 251.46 L212.80 200.23 L213.20 256.99 L213.60 249.73 L214.00 234.86 L214.40 260.93 L214.80 261.77 L215.20 288.51 L215.60 242.02 L216.00 241.91 L216.40 224.56 L216.80 248.09 L217.20 242.15 L217.60 238.15 L218.00 267.57 L218.40 252.15 L218.80 243.67 L219.20 250.47 L219.60 294.66 L220.00 224.54 L220.40 205.61 L220.80 237.08 L221.20 259.04 L221.60 251.55 L222.00 243.20 L222.40 234.69 L222.80 245.72 L223.20 251.38 L223.60 211.69 L224.00 243.38 L224.40 230.80 L224.80 271.98 L225.20 231.03 L225.60 251.14 L226.00 247.08 L226.40 242.82 L226.80 251.32 L227.20 238.57 L227.60 246.36 L228.00 245.73 L228.40 175.92 L228.80 285.86 L229.20 247.48 L229.60 251.46 L230.00 224.20 L230.40 284.64 L230.80 248.15 L231.20 247.16 L231.60 263.25 L232.00 213.68 L232.40 265.03 L232.80 238.80 L233.20 274.07 L233.60 250.53 L234.00 240.73 L234.40 232.01 L234.80 245.87 L235.20 260.68 L235.60 258.50 L236.00 215.43 L236.40 234.86 L236.80 260.60 L237.20 195.67 L237.60 227.83 L238.00 249.98 L238.40 261.19 L238.80 198.56 L239.20 254.06 L239.60 245.12 L240.00 254.69 L240.40 261.50 L240.80 234.03 L241.20 234.63 L241.60 258.23 L242.00 266.86 L242.40 263.43 L242.80 235.97 L243.20 251.62 L243.60 238.61 L244.00 245.09 L244.40 229.79 L244.80 238.37 L245.20 240.53 L245.60 244.66 L246.00 248.41 L246.40 215.17 L246.80 266.11 L247.20 257.96 L247.60 253.96 L248.00 244.53 L248.40 236.69 L248.80 238.86 L249.20 270.80 L249.60 214.18 L250.00 279.11 L250.40 246.31 L250.80 245.32 L251.20 243.40 L251.60 286.11 L252.00 239.02 L252.40 219.70 L252.80 259.60 L253.20 216.20 L253.60 250.79 L254.00 248.23 L254.40 238.46 L254.80 254.72 L255.20 250.12 L255.60 237.33 L256.00 283.43 L256.40 257.26 L256.80 246.57 L257.20 242.17 L257.60 255.19 L258.00 245.46 L258.40 244.89 L258.80 242.79 L259.20 248.49 L259.60 143.98 L260.00 209.24 L260.40 242.10 L260.80 248.27 L261.20 239.96 L261.60 172.63 L262.00 247.46 L262.40 225.46 L262.80 238.91 L263.20 259.10 L263.60 181.26 L264.00 271.36 L264.40 258.32 L264.80 243.29 L265.20 239.88 L265.60 249.66 L266.00 282.89 L266.40 242.70 L266.80 193.53 L267.20 228.18 L267.60 191.44 L268.00 241.59 L268.40 249.38 L268.80 236.52 L269.20 251.55 L269.60 254.65 L270.00 190.30 L270.40 244.36 L270.80 229.65 L271.20 241.20 L271.60 217.43 L272.00 236.03 L272.40 200.05 L272.80 232.63 L273.20 183.89 L273.60 242.35 L274.00 235.10 L274.40 242.00 L274.80 233.39 L275.20 231.51 L275.60 243.28 L276.00 251.54 L276.40 225.22 L276.80 180.80 L277.20 251.50 L277.60 205.03 L278.00 234.68 L278.40 285.94 L278.80 196.64 L279.20 228.60 L279.60 265.92 L280.00 246.85 L280.40 262.24 L280.80 243.37 L281.20 241.14 L281.60 249.31 L282.00 195.06 L282.40 258.14 L282.80 230.74 L283.20 242.42 L283.60 248.79 L284.00 259.25 L284.40 292.28 L284.80 235.21 L285.20 244.83 L285.60 283.36 L286.00 179.09 L286.40 279.59 L286.80 256.11 L287.20 250.09 L287.60 222.64 L288.00 190.40 L288.40 252.94 L288.80 241.80 L289.20 280.15 L289.60 224.41 L290.00 248.98 L290.40 204.80 L290.80 277.67 L291.20 242.09 L291.60 233.05 L292.00 172.75 L292.40 261.99 L292.80 189.30 L293.20 244.00 L293.60 257.03 L294.00 255.50 L294.40 254.13 L294.80 234.86 L295.20 246.77 L295.60 253.25 L296.00 195.32 L296.40 245.81 L296.80 242.77 L297.20 194.29 L297.60 242.11 L298.00 241.15 L298.40 257.22 L298.80 268.03 L299.20 259.83 L299.60 175.66 L300.00 246.46 L300.40 247.31 L300.80 261.67 L301.20 242.87 L301.60 260.77 L302.00 258.39 L302.40 246.38 L302.80 261.15 L303.20 247.62 L303.60 234.30 L304.00 253.89 L304.40 247.56 L304.80 242.42 L305.20 210.79 L305.60 284.12 L306.00 227.24 L306.40 255.75 L306.80 229.12 L307.20 290.15 L307.60 251.65 L308.00 259.96 L308.40 238.79 L308.80 259.27 L309.20 248.75 L309.60 259.10 L310.00 280.02 L310.40 175.11 L310.80 224.09 L311.20 174.16 L311.60 245.48 L312.00 187.31 L312.40 245.19 L312.80 247.32 L313.20 250.58 L313.60 239.78 L314.00 263.28 L314.40 177.79 L314.80 242.89 L315.20 261.91 L315.60 178.99 L316.00 248.83 L316.40 241.15 L316.80 259.40 L317.20 220.65 L317.60 245.06 L318.00 239.36 L318.40 211.95 L318.80 249.46 L319.20 256.50 L319.60 266.28 L320.00 248.04 L320.40 203.47 L320.80 246.39 L321.20 256.46 L321.60 243.76 L322.00 181.07 L322.40 258.51 L322.80 286.09 L323.20 229.22 L323.60 199.43 L324.00 246.18 L324.40 253.85 L324.80 244.36 L325.20 254.55 L325.60 244.83 L326.00 233.63 L326.40 191.62 L326.80 183.27 L327.20 245.14 L327.60 261.40 L328.00 264.21 L328.40 177.85 L328.80 215.68 L329.20 291.71 L329.60 236.08 L330.00 243.29 L330.40 253.20 L330.80 248.13 L331.20 264.64 L331.60 251.24 L332.00 243.76 L332.40 249.03 L332.80 254.61 L333.20 253.18 L333.60 251.22 L334.00 248.42 L334.40 242.69 L334.80 245.88 L335.20 213.99 L335.60 253.66 L336.00 244.54 L336.40 295.08 L336.80 241.92 L337.20 174.60 L337.60 206.66 L338.00 244.94 L338.40 264.28 L338.80 283.10 L339.20 216.66 L339.60 239.98 L340.00 247.42 L340.40 263.07 L340.80 249.59 L341.20 194.85 L341.60 250.81 L342.00 270.56 L342.40 249.76 L342.80 286.54 L343.20 259.80 L343.60 255.60 L344.00 267.69 L344.40 257.85 L344.80 247.56 L345.20 205.43 L345.60 253.10 L346.00 276.03 L346.40 263.23 L346.80 262.22 L347.20 242.40 L347.60 284.54 L348.00 258.74 L348.40 243.11 L348.80 198.91 L349.20 106.90 L349.60 239.57 L350.00 197.29 L350.40 254.68 L350.80 264.13 L351.20 251.57 L351.60 270.26 L352.00 286.02 L352.40 238.18 L352.80 230.78 L353.20 231.46 L353.60 214.24 L354.00 240.82 L354.40 249.97 L354.80 255.34 L355.20 288.37 L355.60 244.87 L356.00 247.59 L356.40 234.06 L356.80 266.33 L357.20 246.07 L357.60 263.72 L358.00 247.39 L358.40 226.71 L358.80 243.78 L359.20 267.22 L359.60 255.96 L360.00 252.74 L360.40 246.82 L360.80 257.42 L361.20 277.43 L361.60 262.13 L362.00 252.82 L362.40 244.40 L362.80 263.77 L363.20 245.58 L363.60 234.57 L364.00 184.41 L364.40 259.74 L364.80 240.13 L365.20 237.68 L365.60 229.74 L366.00 255.75 L366.40 222.53 L366.80 290.52 L367.20 257.82 L367.60 180.44 L368.00 241.88 L368.40 234.30 L368.80 261.84 L369.20 269.61 L369.60 247.16 L370.00 238.03 L370.40 270.37 L370.80 244.54 L371.20 271.16 L371.60 203.45 L372.00 204.91 L372.40 203.59 L372.80 270.64 L373.20 184.28 L373.60 256.87 L374.00 261.51 L374.40 268.04 L374.80 248.55 L375.20 253.18 L375.60 239.33 L376.00 249.95 L376.40 265.44 L376.80 228.60 L377.20 250.33 L377.60 253.88 L378.00 262.46 L378.40 236.21 L378.80 268.65 L379.20 278.84 L379.60 255.08 L380.00 248.77 L380.40 259.55 L380.80 260.13 L381.20 252.69 L381.60 262.11 L382.00 266.56 L382.40 256.43 L382.80 240.44 L383.20 164.75 L383.60 243.54 L384.00 214.67 L384.40 220.80 L384.80 260.56 L385.20 261.88 L385.60 266.82 L386.00 262.66 L386.40 261.68 L386.80 255.47 L387.20 258.71 L387.60 252.35 L388.00 264.70 L388.40 257.14 L388.80 257.87 L389.20 260.37 L389.60 259.59 L390.00 255.57 L390.40 257.00 L390.80 243.52 L391.20 241.09 L391.60 224.90 L392.00 248.61 L392.40 243.70 L392.80 210.05 L393.20 257.90 L393.60 241.99 L394.00 254.12 L394.40 195.82 L394.80 268.96 L395.20 231.25 L395.60 234.80 L396.00 183.36 L396.40 230.54 L396.80 235.54 L397.20 290.04 L397.60 265.29 L398.00 257.10 L398.40 271.19 L398.80 196.71 L399.20 274.39 L399.60 298.39 L400.00 247.37 L400.40 230.70 L400.80 251.21 L401.20 256.38 L401.60 243.22 L402.00 236.36 L402.40 211.15 L402.80 266.16 L403.20 187.34 L403.60 247.39 L404.00 259.63 L404.40 260.05 L404.80 236.98 L405.20 258.48 L405.60 228.74 L406.00 243.14 L406.40 259.21 L406.80 241.38 L407.20 106.90 L407.60 256.39 L408.00 243.27 L408.40 257.91 L408.80 264.65 L409.20 252.83 L409.60 278.65 L410.00 252.15 L410.40 250.54 L410.80 254.51 L411.20 244.28 L411.60 294.13 L412.00 261.90 L412.40 245.06 L412.80 200.67 L413.20 257.18 L413.60 290.42 L414.00 251.29 L414.40 239.56 L414.80 250.60 L415.20 245.49 L415.60 256.53 L416.00 251.51 L416.40 251.18 L416.80 239.97 L417.20 263.31 L417.60 253.99 L418.00 270.10 L418.40 288.50 L418.80 261.40 L419.20 256.27 L419.60 228.66 L420.00 255.61 L420.40 249.17 L420.80 245.20 L421.20 241.63 L421.60 249.88 L422.00 252.03 L422.40 264.69 L422.80 291.18 L423.20 251.24 L423.60 250.37 L424.00 269.89 L424.40 264.28 L424.80 269.44 L425.20 228.11 L425.60 244.92 L426.00 259.91 L426.40 240.28 L426.80 247.09 L427.20 177.73 L427.60 283.23 L428.00 238.39 L428.40 255.97 L428.80 238.71 L429.20 231.07 L429.60 264.11 L430.00 275.44 L430.40 236.95 L430.80 187.16 L431.20 262.30 L431.60 248.75 L432.00 188.86 L432.40 252.25 L432.80 255.80 L433.20 239.69 L433.60 212.66 L434.00 267.03 L434.40 248.41 L434.80 193.03 L435.20 190.82 L435.60 263.78 L436.00 245.64 L436.40 296.26 L436.80 247.75 L437.20 255.14 L437.60 179.01 L438.00 259.00 L438.40 259.30 L438.80 265.04 L439.20 218.10 L439.60 190.84 L440.00 249.75 L440.40 182.11 L440.80 277.18 L441.20 215.29 L441.60 254.53 L442.00 246.56 L442.40 247.68 L442.80 254.24 L443.20 180.66 L443.60 248.87 L444.00 240.90 L444.40 269.43 L444.80 217.61 L445.20 253.37 L445.60 214.11 L446.00 236.99 L446.40 245.96 L446.80 234.10 L447.20 249.64 L447.60 229.96 L448.00 257.42 L448.40 252.37 L448.80 248.86 L449.20 220.04 L449.60 239.08 L450.00 250.01 L450.40 196.28 L450.80 247.59 L451.20 269.37 L451.60 255.84 L452.00 268.13 L452.40 264.25 L452.80 264.05 L453.20 185.00 L453.60 242.82 L454.00 243.81 L454.40 179.46 L454.80 259.56 L455.20 251.77 L455.60 245.02 L456.00 246.35 L456.40 243.22 L456.80 201.02 L457.20 255.94 L457.60 251.57 L458.00 245.49 L458.40 257.38 L458.80 251.04 L459.20 254.46 L459.60 262.55 L460.00 250.67 L460.40 226.16 L460.80 268.28 L461.20 215.85 L461.60 247.77 L462.00 224.37 L462.40 250.39 L462.80 249.30 L463.20 265.77 L463.60 181.54 L464.00 253.13 L464.40 222.87 L464.80 258.74 L465.20 207.21 L465.60 196.89 L466.00 251.00 L466.40 197.94 L466.80 241.77 L467.20 235.57 L467.60 267.06 L468.00 242.17 L468.40 235.47 L468.80 256.94 L469.20 273.73 L469.60 233.76 L470.00 252.99 L470.40 249.12 L470.80 253.55 L471.20 244.30 L471.60 253.86 L472.00 258.72 L472.40 205.67 L472.80 242.08 L473.20 221.94 L473.60 247.22 L474.00 273.18 L474.40 236.08 L474.80 194.14 L475.20 286.19 L475.60 281.26 L476.00 264.22 L476.40 251.03 L476.80 239.37 L477.20 252.91 L477.60 243.05 L478.00 196.80 L478.40 258.57 L478.80 251.68 L479.20 248.09 L479.60 213.48 L480.00 247.09 L480.40 250.88 L480.80 246.95 L481.20 260.67 L481.60 259.02 L482.00 287.46 L482.40 263.70 L482.80 255.03 L483.20 250.79 L483.60 244.35 L484.00 252.41 L484.40 251.91 L484.80 250.28 L485.20 238.98 L485.60 243.19 L486.00 251.83 L486.40 226.21 L486.80 254.41 L487.20 249.97 L487.60 251.67 L488.00 296.65 L488.40 255.87 L488.80 211.33 L489.20 257.30 L489.60 263.16 L490.00 266.94 L490.40 253.10 L490.80 267.97 L491.20 248.78 L491.60 237.89 L492.00 187.72 L492.40 237.53 L492.80 239.31 L493.20 254.37 L493.60 242.35 L494.00 260.90 L494.40 266.35 L494.80 247.53 L495.20 260.44 L495.60 254.80 L496.00 245.00 L496.40 260.77 L496.80 273.30 L497.20 198.50 L497.60 233.34 L498.00 240.40 L498.40 239.00 L498.80 277.84 L499.20 272.36 L499.60 164.42 L500.00 273.37 L500.40 251.48 L500.80 240.29 L501.20 252.01 L501.60 258.84 L502.00 246.16 L502.40 238.32 L502.80 256.61 L503.20 209.97 L503.60 263.63 L504.00 256.76 L504.40 262.36 L504.80 251.24 L505.20 258.64 L505.60 242.34 L506.00 274.34 L506.40 246.92 L506.80 181.39 L507.20 262.46 L507.60 232.26 L508.00 253.54 L508.40 214.98 L508.80 258.55 L509.20 285.85 L509.60 252.61 L510.00 238.82 L510.40 208.39 L510.80 253.03 L511.20 252.84 L511.60 253.34 L512.00 264.78 L512.40 281.29 L512.80 259.98 L513.20 286.74 L513.60 240.17 L514.00 252.95 L514.40 222.77 L514.80 249.33 L515.20 282.38 L515.60 250.11 L516.00 251.68 L516.40 188.92 L516.80 256.15 L517.20 256.50 L517.60 267.24 L518.00 248.38 L518.40 259.15 L518.80 244.56 L519.20 182.49 L519.60 243.15 L520.00 255.76 L520.40 265.44 L520.80 248.13 L521.20 259.85 L521.60 257.60 L522.00 241.03 L522.40 246.55 L522.80 134.40 L523.20 275.25 L523.60 255.66 L524.00 251.57 L524.40 277.13 L524.80 299.36 L525.20 260.46 L525.60 244.70 L526.00 245.80 L526.40 249.14 L526.80 251.72 L527.20 253.51 L527.60 247.50 L528.00 265.69 L528.40 256.83 L528.80 249.15 L529.20 217.63 L529.60 246.69 L530.00 246.46 L530.40 249.12 L530.80 246.45 L531.20 247.69 L531.60 255.73 L532.00 252.57 L532.40 193.68 L532.80 297.35 L533.20 243.74 L533.60 253.88 L534.00 296.46 L534.40 204.53 L534.80 241.16 L535.20 292.90 L535.60 261.15 L536.00 264.74 L536.40 249.26 L536.80 251.34 L537.20 256.84 L537.60 258.40 L538.00 262.55 L538.40 215.99 L538.80 269.77 L539.20 254.60 L539.60 271.84 L540.00 242.67 L540.40 251.38 L540.80 266.41 L541.20 258.62 L541.60 260.62 L542.00 246.82 L542.40 254.61 L542.80 236.26 L543.20 252.87 L543.60 250.56 L544.00 255.53 L544.40 224.65 L544.80 276.57 L545.20 257.65 L545.60 216.47 L546.00 247.17 L546.40 238.46 L546.80 255.36 L547.20 244.85 L547.60 236.93 L548.00 255.02 L548.40 237.02 L548.80 250.16 L549.20 220.36 L549.60 190.09 L550.00 299.00 L550.40 242.60 L550.80 247.67 L551.20 251.60 L551.60 181.61 L552.00 262.19 L552.40 260.99 L552.80 270.03 L553.20 258.46 L553.60 254.48 L554.00 277.36 L554.40 191.95 L554.80 195.25 L555.20 257.12 L555.60 285.93 L556.00 263.32 L556.40 268.33 L556.80 264.68 L557.20 253.08 L557.60 195.13 L558.00 247.71 L558.40 275.01 L558.80 276.76 L559.20 248.03 L559.60 251.68 L560.00 259.18 L560.40 250.85 L560.80 266.76 L561.20 136.73 L561.60 271.57 L562.00 251.77 L562.40 218.41 L562.80 254.83 L563.20 252.50 L563.60 291.82 L564.00 249.33 L564.40 250.25 L564.80 253.97 L565.20 179.55 L565.60 252.58 L566.00 194.80 L566.40 260.06 L566.80 257.62 L567.20 251.40 L567.60 183.61 L568.00 244.69 L568.40 243.05 L568.80 275.41 L569.20 233.02 L569.60 261.38 L570.00 257.63 L570.40 249.98 L570.80 250.65 L571.20 258.46 L571.60 256.29 L572.00 296.41 L572.40 264.39 L572.80 264.61 L573.20 258.78 L573.60 268.02 L574.00 268.17 L574.40 268.67 L574.80 245.34 L575.20 259.67 L575.60 217.98 L576.00 243.06 L576.40 210.02 L576.80 248.80 L577.20 232.35 L577.60 250.27 L578.00 187.98 L578.40 241.54 L578.80 262.82 L579.20 252.30 L579.60 263.50 L580.00 251.68 L580.40 246.27 L580.80 218.13 L581.20 274.22 L581.60 259.44 L582.00 216.55 L582.40 250.61 L582.80 239.64 L583.20 266.17 L583.60 268.51 L584.00 196.97 L584.40 267.69 L584.80 277.07 L585.20 265.93 L585.60 258.36 L586.00 247.30 L586.40 223.90 L586.80 259.47 L587.20 254.32 L587.60 264.31 L588.00 260.43 L588.40 259.34 L588.80 298.45 L589.20 252.69 L589.60 186.49 L590.00 269.61 L590.40 255.61 L590.80 244.38 L591.20 286.86 L591.60 205.73 L592.00 246.84 L592.40 209.77 L592.80 250.65 L593.20 258.93 L593.60 179.19 L594.00 271.06 L594.40 188.04 L594.80 243.75 L595.20 233.87 L595.60 244.43 L596.00 220.81 L596.40 242.64 L596.80 200.97 L597.20 276.67 L597.60 273.09 L598.00 246.11 L598.40 274.85 L598.80 263.32 L599.20 192.46 L599.60 253.78 L600.00 269.42 L600.40 213.01 L600.80 240.42 L601.20 200.18 L601.60 203.19 L602.00 259.78 L602.40 182.29 L602.80 254.99 L603.20 248.50 L603.60 258.86 L604.00 227.31 L604.40 257.00 L604.80 285.39 L605.20 258.25 L605.60 184.83 L606.00 263.24 L606.40 246.20 L606.80 214.26 L607.20 205.40 L607.60 276.28 L608.00 248.50 L608.40 253.05 L608.80 262.87 L609.20 186.23 L609.60 247.50 L610.00 257.19 L610.40 256.68 L610.80 297.23 L611.20 248.55 L611.60 252.56 L612.00 262.52 L612.40 258.50 L612.80 200.67 L613.20 243.47 L613.60 252.61 L614.00 224.57 L614.40 255.00 L614.80 246.29 L615.20 285.09 L615.60 225.04 L616.00 201.42 L616.40 261.71 L616.80 251.64 L617.20 267.08 L617.60 257.00 L618.00 236.86 L618.5 319.90 Z" fill="#5b8fd8" fill-opacity="0.75"/><defs><linearGradient id="bandg" x1="0" y1="0" x2="0" y2="1"><stop offset="0" stop-color="#5fa2ff" stop-opacity="0"/><stop offset="0.3" stop-color="#60a4ff" stop-opacity="0.55"/><stop offset="0.7" stop-color="#60a4ff" stop-opacity="0.55"/><stop offset="1" stop-color="#5fa2ff" stop-opacity="0"/></linearGradient></defs><rect x="78.0" y="236.83" width="538.5" height="34.08" fill="url(#bandg)"/><polyline points="76.00,245.10 76.40,247.08 76.80,243.97 77.20,244.02 77.60,257.30 78.00,253.24 78.40,179.88 78.80,245.74 79.20,244.89 79.60,243.31 80.00,237.15 80.40,251.89 80.80,215.87 81.20,249.57 81.60,253.52 82.00,236.80 82.40,244.39 82.80,279.91 83.20,262.71 83.60,249.43 84.00,256.23 84.40,203.92 84.80,241.93 85.20,190.02 85.60,239.24 86.00,242.39 86.40,254.13 86.80,257.53 87.20,253.32 87.60,262.19 88.00,188.05 88.40,245.89 88.80,244.74 89.20,255.20 89.60,237.57 90.00,220.33 90.40,184.25 90.80,213.07 91.20,246.56 91.60,238.90 92.00,242.96 92.40,239.95 92.80,273.70 93.20,265.36 93.60,242.70 94.00,267.02 94.40,276.17 94.80,249.39 95.20,258.74 95.60,256.37 96.00,238.85 96.40,261.13 96.80,249.19 97.20,176.77 97.60,235.80 98.00,260.03 98.40,237.04 98.80,222.82 99.20,264.37 99.60,239.61 100.00,226.52 100.40,220.91 100.80,228.55 101.20,244.70 101.60,212.54 102.00,251.03 102.40,244.10 102.80,258.57 103.20,220.83 103.60,245.45 104.00,288.45 104.40,225.20 104.80,253.09 105.20,248.73 105.60,197.23 106.00,238.11 106.40,271.70 106.80,183.72 107.20,258.97 107.60,251.04 108.00,241.80 108.40,237.34 108.80,261.65 109.20,246.09 109.60,236.32 110.00,224.93 110.40,267.81 110.80,237.73 111.20,250.60 111.60,239.02 112.00,266.65 112.40,265.84 112.80,250.35 113.20,241.91 113.60,257.04 114.00,235.67 114.40,131.55 114.80,240.67 115.20,240.49 115.60,232.60 116.00,238.37 116.40,249.55 116.80,248.78 117.20,218.19 117.60,253.65 118.00,236.99 118.40,233.63 118.80,255.03 119.20,225.82 119.60,238.15 120.00,269.94 120.40,251.64 120.80,244.90 121.20,269.21 121.60,279.85 122.00,273.80 122.40,176.29 122.80,253.85 123.20,106.90 123.60,239.76 124.00,253.70 124.40,259.48 124.80,202.38 125.20,258.86 125.60,250.40 126.00,275.89 126.40,256.09 126.80,251.08 127.20,247.16 127.60,252.58 128.00,268.84 128.40,260.47 128.80,248.78 129.20,260.57 129.60,243.61 130.00,251.93 130.40,258.09 130.80,234.39 131.20,124.40 131.60,279.20 132.00,253.64 132.40,245.14 132.80,244.63 133.20,213.72 133.60,189.99 134.00,243.95 134.40,251.75 134.80,236.05 135.20,232.90 135.60,293.59 136.00,277.42 136.40,246.16 136.80,203.30 137.20,251.88 137.60,243.17 138.00,236.46 138.40,247.08 138.80,208.93 139.20,252.09 139.60,248.89 140.00,244.20 140.40,260.74 140.80,249.47 141.20,264.03 141.60,233.66 142.00,264.78 142.40,258.10 142.80,250.03 143.20,106.90 143.60,252.74 144.00,228.49 144.40,238.89 144.80,232.52 145.20,179.78 145.60,239.40 146.00,269.60 146.40,264.25 146.80,256.11 147.20,263.57 147.60,224.88 148.00,270.94 148.40,248.53 148.80,256.94 149.20,272.26 149.60,213.89 150.00,187.18 150.40,245.05 150.80,239.01 151.20,182.48 151.60,267.32 152.00,248.59 152.40,259.57 152.80,274.39 153.20,252.87 153.60,262.35 154.00,244.48 154.40,133.40 154.80,265.84 155.20,181.40 155.60,247.62 156.00,250.75 156.40,242.35 156.80,243.64 157.20,294.85 157.60,240.68 158.00,248.54 158.40,224.54 158.80,240.04 159.20,249.39 159.60,246.02 160.00,213.55 160.40,206.07 160.80,165.53 161.20,238.69 161.60,281.39 162.00,249.50 162.40,263.59 162.80,256.12 163.20,244.14 163.60,188.20 164.00,232.09 164.40,244.68 164.80,251.42 165.20,199.35 165.60,267.10 166.00,243.63 166.40,266.58 166.80,255.73 167.20,261.49 167.60,208.44 168.00,182.14 168.40,263.19 168.80,259.91 169.20,260.08 169.60,184.29 170.00,261.64 170.40,250.01 170.80,187.70 171.20,263.15 171.60,286.88 172.00,287.26 172.40,259.24 172.80,249.48 173.20,248.43 173.60,263.06 174.00,220.40 174.40,287.43 174.80,251.26 175.20,213.70 175.60,250.51 176.00,253.47 176.40,256.99 176.80,254.61 177.20,248.90 177.60,295.98 178.00,239.36 178.40,248.75 178.80,257.13 179.20,294.82 179.60,281.64 180.00,199.61 180.40,247.57 180.80,183.21 181.20,238.62 181.60,293.10 182.00,259.69 182.40,228.44 182.80,257.68 183.20,209.60 183.60,247.47 184.00,233.97 184.40,249.77 184.80,177.34 185.20,243.48 185.60,254.54 186.00,237.15 186.40,250.03 186.80,250.41 187.20,182.41 187.60,246.95 188.00,249.89 188.40,242.39 188.80,274.08 189.20,236.82 189.60,261.56 190.00,238.63 190.40,254.30 190.80,188.03 191.20,249.65 191.60,263.66 192.00,177.25 192.40,202.42 192.80,254.50 193.20,234.84 193.60,284.25 194.00,258.82 194.40,219.57 194.80,293.27 195.20,253.19 195.60,293.27 196.00,254.79 196.40,263.71 196.80,248.14 197.20,215.22 197.60,281.02 198.00,249.76 198.40,259.62 198.80,255.94 199.20,213.03 199.60,243.60 200.00,200.50 200.40,245.31 200.80,269.30 201.20,254.71 201.60,231.77 202.00,254.92 202.40,226.51 202.80,240.98 203.20,256.18 203.60,206.57 204.00,240.91 204.40,266.28 204.80,264.10 205.20,199.26 205.60,235.16 206.00,254.96 206.40,261.14 206.80,184.79 207.20,106.90 207.60,246.17 208.00,251.03 208.40,283.04 208.80,244.60 209.20,224.11 209.60,257.53 210.00,281.68 210.40,211.25 210.80,253.96 211.20,261.44 211.60,264.87 212.00,268.77 212.40,251.46 212.80,200.23 213.20,256.99 213.60,249.73 214.00,234.86 214.40,260.93 214.80,261.77 215.20,288.51 215.60,242.02 216.00,241.91 216.40,224.56 216.80,248.09 217.20,242.15 217.60,238.15 218.00,267.57 218.40,252.15 218.80,243.67 219.20,250.47 219.60,294.66 220.00,224.54 220.40,205.61 220.80,237.08 221.20,259.04 221.60,251.55 222.00,243.20 222.40,234.69 222.80,245.72 223.20,251.38 223.60,211.69 224.00,243.38 224.40,230.80 224.80,271.98 225.20,231.03 225.60,251.14 226.00,247.08 226.40,242.82 226.80,251.32 227.20,238.57 227.60,246.36 228.00,245.73 228.40,175.92 228.80,285.86 229.20,247.48 229.60,251.46 230.00,224.20 230.40,284.64 230.80,248.15 231.20,247.16 231.60,263.25 232.00,213.68 232.40,265.03 232.80,238.80 233.20,274.07 233.60,250.53 234.00,240.73 234.40,232.01 234.80,245.87 235.20,260.68 235.60,258.50 236.00,215.43 236.40,234.86 236.80,260.60 237.20,195.67 237.60,227.83 238.00,249.98 238.40,261.19 238.80,198.56 239.20,254.06 239.60,245.12 240.00,254.69 240.40,261.50 240.80,234.03 241.20,234.63 241.60,258.23 242.00,266.86 242.40,263.43 242.80,235.97 243.20,251.62 243.60,238.61 244.00,245.09 244.40,229.79 244.80,238.37 245.20,240.53 245.60,244.66 246.00,248.41 246.40,215.17 246.80,266.11 247.20,257.96 247.60,253.96 248.00,244.53 248.40,236.69 248.80,238.86 249.20,270.80 249.60,214.18 250.00,279.11 250.40,246.31 250.80,245.32 251.20,243.40 251.60,286.11 252.00,239.02 252.40,219.70 252.80,259.60 253.20,216.20 253.60,250.79 254.00,248.23 254.40,238.46 254.80,254.72 255.20,250.12 255.60,237.33 256.00,283.43 256.40,257.26 256.80,246.57 257.20,242.17 257.60,255.19 258.00,245.46 258.40,244.89 258.80,242.79 259.20,248.49 259.60,143.98 260.00,209.24 260.40,242.10 260.80,248.27 261.20,239.96 261.60,172.63 262.00,247.46 262.40,225.46 262.80,238.91 263.20,259.10 263.60,181.26 264.00,271.36 264.40,258.32 264.80,243.29 265.20,239.88 265.60,249.66 266.00,282.89 266.40,242.70 266.80,193.53 267.20,228.18 267.60,191.44 268.00,241.59 268.40,249.38 268.80,236.52 269.20,251.55 269.60,254.65 270.00,190.30 270.40,244.36 270.80,229.65 271.20,241.20 271.60,217.43 272.00,236.03 272.40,200.05 272.80,232.63 273.20,183.89 273.60,242.35 274.00,235.10 274.40,242.00 274.80,233.39 275.20,231.51 275.60,243.28 276.00,251.54 276.40,225.22 276.80,180.80 277.20,251.50 277.60,205.03 278.00,234.68 278.40,285.94 278.80,196.64 279.20,228.60 279.60,265.92 280.00,246.85 280.40,262.24 280.80,243.37 281.20,241.14 281.60,249.31 282.00,195.06 282.40,258.14 282.80,230.74 283.20,242.42 283.60,248.79 284.00,259.25 284.40,292.28 284.80,235.21 285.20,244.83 285.60,283.36 286.00,179.09 286.40,279.59 286.80,256.11 287.20,250.09 287.60,222.64 288.00,190.40 288.40,252.94 288.80,241.80 289.20,280.15 289.60,224.41 290.00,248.98 290.40,204.80 290.80,277.67 291.20,242.09 291.60,233.05 292.00,172.75 292.40,261.99 292.80,189.30 293.20,244.00 293.60,257.03 294.00,255.50 294.40,254.13 294.80,234.86 295.20,246.77 295.60,253.25 296.00,195.32 296.40,245.81 296.80,242.77 297.20,194.29 297.60,242.11 298.00,241.15 298.40,257.22 298.80,268.03 299.20,259.83 299.60,175.66 300.00,246.46 300.40,247.31 300.80,261.67 301.20,242.87 301.60,260.77 302.00,258.39 302.40,246.38 302.80,261.15 303.20,247.62 303.60,234.30 304.00,253.89 304.40,247.56 304.80,242.42 305.20,210.79 305.60,284.12 306.00,227.24 306.40,255.75 306.80,229.12 307.20,290.15 307.60,251.65 308.00,259.96 308.40,238.79 308.80,259.27 309.20,248.75 309.60,259.10 310.00,280.02 310.40,175.11 310.80,224.09 311.20,174.16 311.60,245.48 312.00,187.31 312.40,245.19 312.80,247.32 313.20,250.58 313.60,239.78 314.00,263.28 314.40,177.79 314.80,242.89 315.20,261.91 315.60,178.99 316.00,248.83 316.40,241.15 316.80,259.40 317.20,220.65 317.60,245.06 318.00,239.36 318.40,211.95 318.80,249.46 319.20,256.50 319.60,266.28 320.00,248.04 320.40,203.47 320.80,246.39 321.20,256.46 321.60,243.76 322.00,181.07 322.40,258.51 322.80,286.09 323.20,229.22 323.60,199.43 324.00,246.18 324.40,253.85 324.80,244.36 325.20,254.55 325.60,244.83 326.00,233.63 326.40,191.62 326.80,183.27 327.20,245.14 327.60,261.40 328.00,264.21 328.40,177.85 328.80,215.68 329.20,291.71 329.60,236.08 330.00,243.29 330.40,253.20 330.80,248.13 331.20,264.64 331.60,251.24 332.00,243.76 332.40,249.03 332.80,254.61 333.20,253.18 333.60,251.22 334.00,248.42 334.40,242.69 334.80,245.88 335.20,213.99 335.60,253.66 336.00,244.54 336.40,295.08 336.80,241.92 337.20,174.60 337.60,206.66 338.00,244.94 338.40,264.28 338.80,283.10 339.20,216.66 339.60,239.98 340.00,247.42 340.40,263.07 340.80,249.59 341.20,194.85 341.60,250.81 342.00,270.56 342.40,249.76 342.80,286.54 343.20,259.80 343.60,255.60 344.00,267.69 344.40,257.85 344.80,247.56 345.20,205.43 345.60,253.10 346.00,276.03 346.40,263.23 346.80,262.22 347.20,242.40 347.60,284.54 348.00,258.74 348.40,243.11 348.80,198.91 349.20,106.90 349.60,239.57 350.00,197.29 350.40,254.68 350.80,264.13 351.20,251.57 351.60,270.26 352.00,286.02 352.40,238.18 352.80,230.78 353.20,231.46 353.60,214.24 354.00,240.82 354.40,249.97 354.80,255.34 355.20,288.37 355.60,244.87 356.00,247.59 356.40,234.06 356.80,266.33 357.20,246.07 357.60,263.72 358.00,247.39 358.40,226.71 358.80,243.78 359.20,267.22 359.60,255.96 360.00,252.74 360.40,246.82 360.80,257.42 361.20,277.43 361.60,262.13 362.00,252.82 362.40,244.40 362.80,263.77 363.20,245.58 363.60,234.57 364.00,184.41 364.40,259.74 364.80,240.13 365.20,237.68 365.60,229.74 366.00,255.75 366.40,222.53 366.80,290.52 367.20,257.82 367.60,180.44 368.00,241.88 368.40,234.30 368.80,261.84 369.20,269.61 369.60,247.16 370.00,238.03 370.40,270.37 370.80,244.54 371.20,271.16 371.60,203.45 372.00,204.91 372.40,203.59 372.80,270.64 373.20,184.28 373.60,256.87 374.00,261.51 374.40,268.04 374.80,248.55 375.20,253.18 375.60,239.33 376.00,249.95 376.40,265.44 376.80,228.60 377.20,250.33 377.60,253.88 378.00,262.46 378.40,236.21 378.80,268.65 379.20,278.84 379.60,255.08 380.00,248.77 380.40,259.55 380.80,260.13 381.20,252.69 381.60,262.11 382.00,266.56 382.40,256.43 382.80,240.44 383.20,164.75 383.60,243.54 384.00,214.67 384.40,220.80 384.80,260.56 385.20,261.88 385.60,266.82 386.00,262.66 386.40,261.68 386.80,255.47 387.20,258.71 387.60,252.35 388.00,264.70 388.40,257.14 388.80,257.87 389.20,260.37 389.60,259.59 390.00,255.57 390.40,257.00 390.80,243.52 391.20,241.09 391.60,224.90 392.00,248.61 392.40,243.70 392.80,210.05 393.20,257.90 393.60,241.99 394.00,254.12 394.40,195.82 394.80,268.96 395.20,231.25 395.60,234.80 396.00,183.36 396.40,230.54 396.80,235.54 397.20,290.04 397.60,265.29 398.00,257.10 398.40,271.19 398.80,196.71 399.20,274.39 399.60,298.39 400.00,247.37 400.40,230.70 400.80,251.21 401.20,256.38 401.60,243.22 402.00,236.36 402.40,211.15 402.80,266.16 403.20,187.34 403.60,247.39 404.00,259.63 404.40,260.05 404.80,236.98 405.20,258.48 405.60,228.74 406.00,243.14 406.40,259.21 406.80,241.38 407.20,106.90 407.60,256.39 408.00,243.27 408.40,257.91 408.80,264.65 409.20,252.83 409.60,278.65 410.00,252.15 410.40,250.54 410.80,254.51 411.20,244.28 411.60,294.13 412.00,261.90 412.40,245.06 412.80,200.67 413.20,257.18 413.60,290.42 414.00,251.29 414.40,239.56 414.80,250.60 415.20,245.49 415.60,256.53 416.00,251.51 416.40,251.18 416.80,239.97 417.20,263.31 417.60,253.99 418.00,270.10 418.40,288.50 418.80,261.40 419.20,256.27 419.60,228.66 420.00,255.61 420.40,249.17 420.80,245.20 421.20,241.63 421.60,249.88 422.00,252.03 422.40,264.69 422.80,291.18 423.20,251.24 423.60,250.37 424.00,269.89 424.40,264.28 424.80,269.44 425.20,228.11 425.60,244.92 426.00,259.91 426.40,240.28 426.80,247.09 427.20,177.73 427.60,283.23 428.00,238.39 428.40,255.97 428.80,238.71 429.20,231.07 429.60,264.11 430.00,275.44 430.40,236.95 430.80,187.16 431.20,262.30 431.60,248.75 432.00,188.86 432.40,252.25 432.80,255.80 433.20,239.69 433.60,212.66 434.00,267.03 434.40,248.41 434.80,193.03 435.20,190.82 435.60,263.78 436.00,245.64 436.40,296.26 436.80,247.75 437.20,255.14 437.60,179.01 438.00,259.00 438.40,259.30 438.80,265.04 439.20,218.10 439.60,190.84 440.00,249.75 440.40,182.11 440.80,277.18 441.20,215.29 441.60,254.53 442.00,246.56 442.40,247.68 442.80,254.24 443.20,180.66 443.60,248.87 444.00,240.90 444.40,269.43 444.80,217.61 445.20,253.37 445.60,214.11 446.00,236.99 446.40,245.96 446.80,234.10 447.20,249.64 447.60,229.96 448.00,257.42 448.40,252.37 448.80,248.86 449.20,220.04 449.60,239.08 450.00,250.01 450.40,196.28 450.80,247.59 451.20,269.37 451.60,255.84 452.00,268.13 452.40,264.25 452.80,264.05 453.20,185.00 453.60,242.82 454.00,243.81 454.40,179.46 454.80,259.56 455.20,251.77 455.60,245.02 456.00,246.35 456.40,243.22 456.80,201.02 457.20,255.94 457.60,251.57 458.00,245.49 458.40,257.38 458.80,251.04 459.20,254.46 459.60,262.55 460.00,250.67 460.40,226.16 460.80,268.28 461.20,215.85 461.60,247.77 462.00,224.37 462.40,250.39 462.80,249.30 463.20,265.77 463.60,181.54 464.00,253.13 464.40,222.87 464.80,258.74 465.20,207.21 465.60,196.89 466.00,251.00 466.40,197.94 466.80,241.77 467.20,235.57 467.60,267.06 468.00,242.17 468.40,235.47 468.80,256.94 469.20,273.73 469.60,233.76 470.00,252.99 470.40,249.12 470.80,253.55 471.20,244.30 471.60,253.86 472.00,258.72 472.40,205.67 472.80,242.08 473.20,221.94 473.60,247.22 474.00,273.18 474.40,236.08 474.80,194.14 475.20,286.19 475.60,281.26 476.00,264.22 476.40,251.03 476.80,239.37 477.20,252.91 477.60,243.05 478.00,196.80 478.40,258.57 478.80,251.68 479.20,248.09 479.60,213.48 480.00,247.09 480.40,250.88 480.80,246.95 481.20,260.67 481.60,259.02 482.00,287.46 482.40,263.70 482.80,255.03 483.20,250.79 483.60,244.35 484.00,252.41 484.40,251.91 484.80,250.28 485.20,238.98 485.60,243.19 486.00,251.83 486.40,226.21 486.80,254.41 487.20,249.97 487.60,251.67 488.00,296.65 488.40,255.87 488.80,211.33 489.20,257.30 489.60,263.16 490.00,266.94 490.40,253.10 490.80,267.97 491.20,248.78 491.60,237.89 492.00,187.72 492.40,237.53 492.80,239.31 493.20,254.37 493.60,242.35 494.00,260.90 494.40,266.35 494.80,247.53 495.20,260.44 495.60,254.80 496.00,245.00 496.40,260.77 496.80,273.30 497.20,198.50 497.60,233.34 498.00,240.40 498.40,239.00 498.80,277.84 499.20,272.36 499.60,164.42 500.00,273.37 500.40,251.48 500.80,240.29 501.20,252.01 501.60,258.84 502.00,246.16 502.40,238.32 502.80,256.61 503.20,209.97 503.60,263.63 504.00,256.76 504.40,262.36 504.80,251.24 505.20,258.64 505.60,242.34 506.00,274.34 506.40,246.92 506.80,181.39 507.20,262.46 507.60,232.26 508.00,253.54 508.40,214.98 508.80,258.55 509.20,285.85 509.60,252.61 510.00,238.82 510.40,208.39 510.80,253.03 511.20,252.84 511.60,253.34 512.00,264.78 512.40,281.29 512.80,259.98 513.20,286.74 513.60,240.17 514.00,252.95 514.40,222.77 514.80,249.33 515.20,282.38 515.60,250.11 516.00,251.68 516.40,188.92 516.80,256.15 517.20,256.50 517.60,267.24 518.00,248.38 518.40,259.15 518.80,244.56 519.20,182.49 519.60,243.15 520.00,255.76 520.40,265.44 520.80,248.13 521.20,259.85 521.60,257.60 522.00,241.03 522.40,246.55 522.80,134.40 523.20,275.25 523.60,255.66 524.00,251.57 524.40,277.13 524.80,299.36 525.20,260.46 525.60,244.70 526.00,245.80 526.40,249.14 526.80,251.72 527.20,253.51 527.60,247.50 528.00,265.69 528.40,256.83 528.80,249.15 529.20,217.63 529.60,246.69 530.00,246.46 530.40,249.12 530.80,246.45 531.20,247.69 531.60,255.73 532.00,252.57 532.40,193.68 532.80,297.35 533.20,243.74 533.60,253.88 534.00,296.46 534.40,204.53 534.80,241.16 535.20,292.90 535.60,261.15 536.00,264.74 536.40,249.26 536.80,251.34 537.20,256.84 537.60,258.40 538.00,262.55 538.40,215.99 538.80,269.77 539.20,254.60 539.60,271.84 540.00,242.67 540.40,251.38 540.80,266.41 541.20,258.62 541.60,260.62 542.00,246.82 542.40,254.61 542.80,236.26 543.20,252.87 543.60,250.56 544.00,255.53 544.40,224.65 544.80,276.57 545.20,257.65 545.60,216.47 546.00,247.17 546.40,238.46 546.80,255.36 547.20,244.85 547.60,236.93 548.00,255.02 548.40,237.02 548.80,250.16 549.20,220.36 549.60,190.09 550.00,299.00 550.40,242.60 550.80,247.67 551.20,251.60 551.60,181.61 552.00,262.19 552.40,260.99 552.80,270.03 553.20,258.46 553.60,254.48 554.00,277.36 554.40,191.95 554.80,195.25 555.20,257.12 555.60,285.93 556.00,263.32 556.40,268.33 556.80,264.68 557.20,253.08 557.60,195.13 558.00,247.71 558.40,275.01 558.80,276.76 559.20,248.03 559.60,251.68 560.00,259.18 560.40,250.85 560.80,266.76 561.20,136.73 561.60,271.57 562.00,251.77 562.40,218.41 562.80,254.83 563.20,252.50 563.60,291.82 564.00,249.33 564.40,250.25 564.80,253.97 565.20,179.55 565.60,252.58 566.00,194.80 566.40,260.06 566.80,257.62 567.20,251.40 567.60,183.61 568.00,244.69 568.40,243.05 568.80,275.41 569.20,233.02 569.60,261.38 570.00,257.63 570.40,249.98 570.80,250.65 571.20,258.46 571.60,256.29 572.00,296.41 572.40,264.39 572.80,264.61 573.20,258.78 573.60,268.02 574.00,268.17 574.40,268.67 574.80,245.34 575.20,259.67 575.60,217.98 576.00,243.06 576.40,210.02 576.80,248.80 577.20,232.35 577.60,250.27 578.00,187.98 578.40,241.54 578.80,262.82 579.20,252.30 579.60,263.50 580.00,251.68 580.40,246.27 580.80,218.13 581.20,274.22 581.60,259.44 582.00,216.55 582.40,250.61 582.80,239.64 583.20,266.17 583.60,268.51 584.00,196.97 584.40,267.69 584.80,277.07 585.20,265.93 585.60,258.36 586.00,247.30 586.40,223.90 586.80,259.47 587.20,254.32 587.60,264.31 588.00,260.43 588.40,259.34 588.80,298.45 589.20,252.69 589.60,186.49 590.00,269.61 590.40,255.61 590.80,244.38 591.20,286.86 591.60,205.73 592.00,246.84 592.40,209.77 592.80,250.65 593.20,258.93 593.60,179.19 594.00,271.06 594.40,188.04 594.80,243.75 595.20,233.87 595.60,244.43 596.00,220.81 596.40,242.64 596.80,200.97 597.20,276.67 597.60,273.09 598.00,246.11 598.40,274.85 598.80,263.32 599.20,192.46 599.60,253.78 600.00,269.42 600.40,213.01 600.80,240.42 601.20,200.18 601.60,203.19 602.00,259.78 602.40,182.29 602.80,254.99 603.20,248.50 603.60,258.86 604.00,227.31 604.40,257.00 604.80,285.39 605.20,258.25 605.60,184.83 606.00,263.24 606.40,246.20 606.80,214.26 607.20,205.40 607.60,276.28 608.00,248.50 608.40,253.05 608.80,262.87 609.20,186.23 609.60,247.50 610.00,257.19 610.40,256.68 610.80,297.23 611.20,248.55 611.60,252.56 612.00,262.52 612.40,258.50 612.80,200.67 613.20,243.47 613.60,252.61 614.00,224.57 614.40,255.00 614.80,246.29 615.20,285.09 615.60,225.04 616.00,201.42 616.40,261.71 616.80,251.64 617.20,267.08 617.60,257.00 618.00,236.86" fill="none" stroke="#5fa2ff" stroke-width="0.9"/></svg>
<div class="a" style="left:-931.30px;width:1000px;text-align:right;top:100.60px;font-size:11.60px;line-height:12.96px;font-weight:normal;color:#a8a8a8;">100.0%</div>
<div class="a" style="left:-931.30px;width:1000px;text-align:right;top:206.90px;font-size:11.60px;line-height:12.96px;font-weight:normal;color:#a8a8a8;">50.0%</div>
<div class="a" style="left:-931.30px;width:1000px;text-align:right;top:313.60px;font-size:11.60px;line-height:12.96px;font-weight:normal;color:#a8a8a8;">0.0%</div>
<div class="a" style="left:-276.80px;width:1000px;text-align:center;top:330.89px;font-size:12.50px;line-height:13.96px;font-weight:normal;color:#a8a8a8;">00:00</div>
<div class="a" style="left:-5.00px;width:1000px;text-align:center;top:331.09px;font-size:12.50px;line-height:13.96px;font-weight:normal;color:#a8a8a8;">12:00</div>
</div>
<div class="p" id="cpu" style="left:983.30px;top:246.50px;width:505.70px;height:371.50px;">
<div class="hd" style="height:71.50px"></div>
<div class="a" style="left:25.05px;top:23.81px;font-size:24.50px;line-height:27.37px;font-weight:bold;color:#ececec;transform:scaleX(0.850);transform-origin:left;">CPU Usage</div>
<div class="a" style="left:10.70px;top:80.90px;width:484.70px;height:280.20px;background:#84ab52"></div>
<div class="a" style="left:195.10px;top:186.68px;font-size:43.85px;line-height:48.98px;font-weight:normal;color:#ffffff;transform:scaleX(0.949);transform-origin:left;">40.3%</div>
<div class="a" style="left:180.51px;top:239.17px;font-size:15.23px;line-height:17.02px;font-weight:bold;color:#ffffff;transform:scaleX(0.929);transform-origin:left;-webkit-text-stroke:0.3px #fff;">Maximum CPU Usage</div>
<div class="a" style="left:234.70px;top:0;width:149.00px;height:1.5px;background:#1f9a1f"></div>
<div class="a" style="left:383.70px;top:0;width:122.00px;height:1.5px;background:#9a9a9a"></div>
</div>
<div class="p" id="chk" style="left:1.00px;top:540.20px;width:332.00px;height:434.80px;">
<div class="hd" style="height:70.20px"></div>
<div class="a" style="left:24.14px;top:23.06px;font-size:24.50px;line-height:27.37px;font-weight:bold;color:#ececec;transform:scaleX(0.843);transform-origin:left;">Checks in Progress</div>
<svg class="a" style="left:0;top:0" width="340" height="440"><defs><linearGradient id="lg" gradientUnits="userSpaceOnUse" x1="255" y1="0" x2="275" y2="0"><stop offset="0" stop-color="#3590d8"/><stop offset="1" stop-color="#3e9ee5"/></linearGradient></defs><path d="M112.24 258.17 C112.48 255.16 112.59 252.13 112.95 249.13 C113.37 245.66 113.46 242.08 114.59 238.76 C115.15 237.12 116.68 235.99 117.86 234.71 C118.89 233.59 119.74 232.00 121.21 231.58 C123.96 230.81 126.92 231.36 129.78 231.35 C149.54 231.28 169.30 231.04 189.05 231.35 C191.29 231.39 193.68 231.42 195.70 232.39 C197.77 233.39 199.20 235.40 200.82 237.03 C202.47 238.68 203.66 240.78 205.49 242.23 C207.04 243.45 208.86 244.44 210.78 244.88 C213.24 245.43 215.82 245.09 218.33 245.11 C230.14 245.20 241.96 244.71 253.75 245.22 C255.36 245.29 256.99 245.90 258.30 246.83 C260.49 248.40 262.04 250.73 264.02 252.57 C265.92 254.33 267.36 257.89 269.93 257.60 C272.38 257.32 273.27 253.78 274.01 251.42 C275.89 245.44 276.76 239.18 277.65 232.97 C279.23 222.08 280.08 211.08 281.42 200.15 C282.54 190.98 283.78 181.82 285.04 172.66 C285.82 167.00 286.44 161.31 287.54 155.70 C287.80 154.36 287.73 151.91 289.09 151.91 C290.57 151.91 291.07 154.26 291.40 155.70 C293.42 164.46 294.58 173.41 296.07 182.28 C297.73 192.16 299.01 202.10 300.84 211.95 C301.64 216.30 302.48 220.67 303.96 224.83 C304.72 226.97 306.03 228.92 307.48 230.65 C308.83 232.25 310.69 233.33 312.25 234.71 C313.96 236.23 315.47 237.98 317.31 239.34 C319.13 240.69 321.01 242.08 323.15 242.80 C326.34 243.87 329.73 244.23 333.06 244.65 C335.92 245.00 338.82 244.95 341.70 245.11 L345.08 271.01 C342.26 271.09 339.43 271.04 336.60 271.24 C334.64 271.38 332.71 271.77 330.75 272.03 C328.18 272.37 325.53 272.35 323.03 273.05 C320.77 273.68 318.62 274.74 316.63 275.98 C314.68 277.20 312.88 278.70 311.31 280.38 C309.45 282.36 308.07 284.73 306.41 286.88 C303.91 290.14 300.68 292.93 298.84 296.60 C296.41 301.46 294.95 306.79 293.77 312.10 C292.02 320.01 290.79 328.06 290.07 336.13 C289.44 343.28 289.88 350.48 289.72 357.66 C289.67 359.79 290.29 366.02 289.46 364.05 C287.91 360.39 288.10 356.22 287.45 352.30 C285.66 341.47 283.95 330.62 282.15 319.79 C280.31 308.70 278.49 297.61 276.52 286.55 C275.17 279.01 273.90 271.45 272.20 263.98 C271.70 261.78 272.15 258.02 269.93 257.60 C267.82 257.20 267.40 261.08 266.16 262.84 C264.69 264.91 263.57 267.27 261.81 269.09 C260.76 270.17 259.41 271.27 257.91 271.35 C242.70 272.15 227.45 271.42 212.23 271.69 C210.31 271.72 208.35 271.78 206.48 272.26 C205.07 272.62 203.65 273.21 202.57 274.18 C200.98 275.60 200.05 277.61 198.69 279.25 C197.43 280.77 196.40 282.62 194.71 283.63 C193.37 284.44 191.65 284.40 190.09 284.42 C167.49 284.66 144.90 284.60 122.30 284.42 C121.36 284.41 120.24 284.48 119.54 283.86 C118.37 282.81 117.61 281.30 117.12 279.81 C116.02 276.52 115.58 273.04 114.82 269.65 C113.95 265.83 113.10 262.00 112.24 258.17 Z" fill="url(#lg)"/><path d="M112.24 258.17 C139.09 258.17 165.94 257.60 192.79 258.17 C194.44 258.21 196.10 258.96 197.38 260.00 C199.52 261.73 200.85 264.27 202.76 266.25 C204.33 267.88 205.85 269.66 207.82 270.79 C209.12 271.53 210.76 271.39 212.23 271.69 L212.23 271.69 C210.31 271.88 208.35 271.78 206.48 272.26 C205.07 272.62 203.65 273.21 202.57 274.18 C200.98 275.60 200.05 277.61 198.69 279.25 C197.43 280.77 196.40 282.62 194.71 283.63 C193.37 284.44 191.65 284.40 190.09 284.42 C167.49 284.66 144.90 284.60 122.30 284.42 C121.36 284.41 120.24 284.48 119.54 283.86 C118.37 282.81 117.61 281.30 117.12 279.81 C116.02 276.52 115.58 273.04 114.82 269.65 C113.95 265.83 113.10 262.00 112.24 258.17 Z" fill="#2880c4"/><path d="M269.93 257.60 C271.63 260.11 273.23 262.69 275.04 265.12 C276.23 266.71 277.32 270.84 278.92 269.65 C281.84 267.49 281.74 262.93 282.71 259.43 C284.05 254.53 284.81 249.50 285.83 244.53 C286.78 239.91 287.42 235.22 288.62 230.65 C289.02 229.16 289.05 226.47 290.60 226.47 C292.20 226.47 292.46 229.13 292.93 230.65 C294.57 235.96 295.30 241.51 296.90 246.83 C297.80 249.83 298.52 253.04 300.41 255.54 C301.37 256.82 303.26 257.10 304.84 257.37 C306.37 257.64 308.05 257.70 309.51 257.14 C311.89 256.24 313.92 254.60 316.00 253.14 C318.45 251.43 320.32 248.82 323.06 247.64 C326.22 246.27 329.78 246.08 333.20 245.68 C336.03 245.35 338.90 245.53 341.75 245.45 L345.08 271.01 C342.26 271.09 339.43 271.04 336.60 271.24 C334.64 271.38 332.71 271.77 330.75 272.03 C328.18 272.37 325.53 272.35 323.03 273.05 C320.77 273.68 318.62 274.74 316.63 275.98 C314.68 277.20 312.88 278.70 311.31 280.38 C309.45 282.36 308.07 284.73 306.41 286.88 C303.91 290.14 300.68 292.93 298.84 296.60 C296.41 301.46 294.95 306.79 293.77 312.10 C292.02 320.01 290.79 328.06 290.07 336.13 C289.44 343.28 289.88 350.48 289.72 357.66 C289.67 359.79 290.29 366.02 289.46 364.05 C287.91 360.39 288.10 356.22 287.45 352.30 C285.66 341.47 283.95 330.62 282.15 319.79 C280.31 308.70 278.49 297.61 276.52 286.55 C275.17 279.01 273.90 271.45 272.20 263.98 C271.70 261.78 270.69 259.73 269.93 257.60 Z" fill="#3490d7"/></svg>
</div>
<div class="p" id="shm" style="left:337.00px;top:621.70px;width:570.50px;height:353.30px;">
<div class="hd" style="height:71.40px"></div>
<div class="a" style="left:24.17px;top:23.62px;font-size:24.50px;line-height:27.37px;font-weight:bold;color:#ececec;transform:scaleX(0.889);transform-origin:left;">System Health Metrics</div>
<svg class="a" style="left:511.50px;top:24.80px" width="28" height="28" viewBox="0 0 28 28"><g fill="none" stroke="#cdcdcd" stroke-width="1.45" stroke-linejoin="round" stroke-linecap="round"><path d="M1.6 6.5 L4.75 1.2 L7.9 6.5 Z"/><ellipse cx="4.75" cy="11.2" rx="3.2" ry="4.7"/><path d="M3.5 15.9 V25 M6 15.9 V25"/><path d="M19.5 6.5 L22.65 1.2 L25.8 6.5 Z"/><ellipse cx="22.65" cy="11.2" rx="3.2" ry="4.7"/><path d="M21.4 15.9 V25 M23.9 15.9 V25"/><path d="M7.9 10.6 H9.4 V11.9 H11.3 V10.6 H12.9 V11.9 H14.8 V10.6 H16.4 V11.9 H18.2 V10.6 H19.5"/><path d="M10 25 V19.8 A3.7 3.7 0 0 1 17.4 19.8 V25"/><path d="M3.2 25.3 H24.3"/></g></svg>
<div class="a" style="left:38.60px;top:82.46px;font-size:13.30px;line-height:14.86px;font-weight:bold;color:#dadada;">Device</div>
<div class="a" style="left:337.10px;top:82.46px;font-size:13.30px;line-height:14.86px;font-weight:bold;color:#dadada;">Disks</div>
<div class="a" style="left:411.00px;top:82.46px;font-size:13.30px;line-height:14.86px;font-weight:bold;color:#dadada;">Bandwidth</div>
<div class="a" style="left:509.50px;top:82.46px;font-size:13.30px;line-height:14.86px;font-weight:bold;color:#dadada;">CPU</div>
<div class="a" style="left:0;top:108.20px;width:552.00px;height:1px;background:#5b5b5b"></div>
<div class="a" style="left:0;top:149.40px;width:552.00px;height:1px;background:#5b5b5b"></div>
<div class="a" style="left:0;top:191.40px;width:552.00px;height:1px;background:#5b5b5b"></div>
<div class="a" style="left:0;top:232.10px;width:552.00px;height:1px;background:#5b5b5b"></div>
<div class="a" style="left:0;top:274.00px;width:552.00px;height:1px;background:#5b5b5b"></div>
<div class="a" style="left:0;top:314.30px;width:552.00px;height:1px;background:#5b5b5b"></div>
<svg class="a" style="left:13.20px;top:121.90px" width="13" height="16" viewBox="0 0 13 16"><rect x="0.5" y="0.5" width="12" height="15" rx="1.6" fill="#404040" stroke="#383838" stroke-width="0.9"/><rect x="1.9" y="1.9" width="9.2" height="12.2" rx="0.9" fill="none" stroke="#8c8c8c" stroke-width="1.0"/><rect x="3.3" y="3.2" width="6.4" height="7.4" fill="#383838"/><ellipse cx="6.5" cy="12.1" rx="1.9" ry="0.95" fill="#e8e8e8"/></svg>
<div class="a" style="left:38.40px;top:121.18px;font-size:13.50px;line-height:15.08px;font-weight:normal;color:#d4d4d4;-webkit-text-stroke:0.3px #d0d0d0;">demo.ff.local</div>
<div class="a" style="left:337.00px;top:121.27px;font-size:13.40px;line-height:14.97px;font-weight:normal;color:#e5827d;-webkit-text-stroke:0.3px #e5827d;">C: 92.4%</div>
<div class="a" style="left:411.00px;top:121.27px;font-size:13.40px;line-height:14.97px;font-weight:normal;color:#d4d4d4;-webkit-text-stroke:0.3px #d0d0d0;">321.6 KB/sec</div>
<div class="a" style="left:509.80px;top:121.45px;font-size:13.20px;line-height:14.74px;font-weight:normal;color:#d4d4d4;-webkit-text-stroke:0.3px #d0d0d0;">17.9%</div>
<svg class="a" style="left:13.20px;top:163.30px" width="13" height="16" viewBox="0 0 13 16"><rect x="0.5" y="0.5" width="12" height="15" rx="1.6" fill="#404040" stroke="#383838" stroke-width="0.9"/><rect x="1.9" y="1.9" width="9.2" height="12.2" rx="0.9" fill="none" stroke="#8c8c8c" stroke-width="1.0"/><rect x="3.3" y="3.2" width="6.4" height="7.4" fill="#383838"/><ellipse cx="6.5" cy="12.1" rx="1.9" ry="0.95" fill="#e8e8e8"/></svg>
<div class="a" style="left:38.40px;top:162.58px;font-size:13.50px;line-height:15.08px;font-weight:normal;color:#d4d4d4;-webkit-text-stroke:0.3px #d0d0d0;">n01.ff.local</div>
<div class="a" style="left:337.00px;top:162.67px;font-size:13.40px;line-height:14.97px;font-weight:normal;color:#d4d4d4;-webkit-text-stroke:0.3px #d4d4d4;">C: 43.1%</div>
<div class="a" style="left:411.00px;top:162.67px;font-size:13.40px;line-height:14.97px;font-weight:normal;color:#d4d4d4;-webkit-text-stroke:0.3px #d0d0d0;">43.6 KB/sec</div>
<div class="a" style="left:509.80px;top:162.85px;font-size:13.20px;line-height:14.74px;font-weight:normal;color:#d4d4d4;-webkit-text-stroke:0.3px #d0d0d0;">8.6%</div>
<svg class="a" style="left:13.20px;top:204.90px" width="13" height="16" viewBox="0 0 13 16"><rect x="0.5" y="0.5" width="12" height="15" rx="1.6" fill="#404040" stroke="#383838" stroke-width="0.9"/><rect x="1.9" y="1.9" width="9.2" height="12.2" rx="0.9" fill="none" stroke="#8c8c8c" stroke-width="1.0"/><rect x="3.3" y="3.2" width="6.4" height="7.4" fill="#383838"/><ellipse cx="6.5" cy="12.1" rx="1.9" ry="0.95" fill="#e8e8e8"/></svg>
<div class="a" style="left:38.40px;top:204.18px;font-size:13.50px;line-height:15.08px;font-weight:normal;color:#d4d4d4;-webkit-text-stroke:0.3px #d0d0d0;">n02.ff.local</div>
<div class="a" style="left:337.00px;top:204.27px;font-size:13.40px;line-height:14.97px;font-weight:normal;color:#d4d4d4;-webkit-text-stroke:0.3px #d4d4d4;">C: 44.8%</div>
<div class="a" style="left:411.00px;top:204.27px;font-size:13.40px;line-height:14.97px;font-weight:normal;color:#d4d4d4;-webkit-text-stroke:0.3px #d0d0d0;">23.4 KB/sec</div>
<div class="a" style="left:509.80px;top:204.45px;font-size:13.20px;line-height:14.74px;font-weight:normal;color:#d4d4d4;-webkit-text-stroke:0.3px #d0d0d0;">4.5%</div>
<svg class="a" style="left:13.20px;top:245.80px" width="13" height="16" viewBox="0 0 13 16"><rect x="0.5" y="0.5" width="12" height="15" rx="1.6" fill="#404040" stroke="#383838" stroke-width="0.9"/><rect x="1.9" y="1.9" width="9.2" height="12.2" rx="0.9" fill="none" stroke="#8c8c8c" stroke-width="1.0"/><rect x="3.3" y="3.2" width="6.4" height="7.4" fill="#383838"/><ellipse cx="6.5" cy="12.1" rx="1.9" ry="0.95" fill="#e8e8e8"/></svg>
<div class="a" style="left:38.40px;top:245.08px;font-size:13.50px;line-height:15.08px;font-weight:normal;color:#d4d4d4;-webkit-text-stroke:0.3px #d0d0d0;">monitor.ff.local</div>
<div class="a" style="left:337.00px;top:245.17px;font-size:13.40px;line-height:14.97px;font-weight:normal;color:#2aa9d2;-webkit-text-stroke:0.3px #2aa9d2;">C: 52.0%</div>
<div class="a" style="left:411.00px;top:245.17px;font-size:13.40px;line-height:14.97px;font-weight:normal;color:#d4d4d4;-webkit-text-stroke:0.3px #d0d0d0;">27.4 KB/sec</div>
<div class="a" style="left:509.80px;top:245.35px;font-size:13.20px;line-height:14.74px;font-weight:normal;color:#d4d4d4;-webkit-text-stroke:0.3px #d0d0d0;">1.4%</div>
<svg class="a" style="left:13.20px;top:287.00px" width="13" height="16" viewBox="0 0 13 16"><rect x="0.5" y="0.5" width="12" height="15" rx="1.6" fill="#404040" stroke="#383838" stroke-width="0.9"/><rect x="1.9" y="1.9" width="9.2" height="12.2" rx="0.9" fill="none" stroke="#8c8c8c" stroke-width="1.0"/><rect x="3.3" y="3.2" width="6.4" height="7.4" fill="#383838"/><ellipse cx="6.5" cy="12.1" rx="1.9" ry="0.95" fill="#e8e8e8"/></svg>
<div class="a" style="left:38.40px;top:286.28px;font-size:13.50px;line-height:15.08px;font-weight:normal;color:#d4d4d4;-webkit-text-stroke:0.3px #d0d0d0;">dc1.ff.local</div>
<div class="a" style="left:337.00px;top:286.37px;font-size:13.40px;line-height:14.97px;font-weight:normal;color:#2aa9d2;-webkit-text-stroke:0.3px #2aa9d2;">C: 54.0%</div>
<div class="a" style="left:411.00px;top:286.37px;font-size:13.40px;line-height:14.97px;font-weight:normal;color:#d4d4d4;-webkit-text-stroke:0.3px #d0d0d0;">82.2 KB/sec</div>
<div class="a" style="left:509.80px;top:286.55px;font-size:13.20px;line-height:14.74px;font-weight:normal;color:#d4d4d4;-webkit-text-stroke:0.3px #d0d0d0;">0.9%</div>
<svg class="a" style="left:13.20px;top:328.40px" width="13" height="16" viewBox="0 0 13 16"><rect x="0.5" y="0.5" width="12" height="15" rx="1.6" fill="#404040" stroke="#383838" stroke-width="0.9"/><rect x="1.9" y="1.9" width="9.2" height="12.2" rx="0.9" fill="none" stroke="#8c8c8c" stroke-width="1.0"/><rect x="3.3" y="3.2" width="6.4" height="7.4" fill="#383838"/><ellipse cx="6.5" cy="12.1" rx="1.9" ry="0.95" fill="#e8e8e8"/></svg>
<div class="a" style="left:38.40px;top:327.68px;font-size:13.50px;line-height:15.08px;font-weight:normal;color:#d4d4d4;-webkit-text-stroke:0.3px #d0d0d0;">dc2.ff.local</div>
<div class="a" style="left:337.00px;top:327.77px;font-size:13.40px;line-height:14.97px;font-weight:normal;color:#2aa9d2;-webkit-text-stroke:0.3px #2aa9d2;">C: 50.5%</div>
<div class="a" style="left:411.00px;top:327.77px;font-size:13.40px;line-height:14.97px;font-weight:normal;color:#d4d4d4;-webkit-text-stroke:0.3px #d0d0d0;">26.1 KB/sec</div>
<div class="a" style="left:509.80px;top:327.95px;font-size:13.20px;line-height:14.74px;font-weight:normal;color:#d4d4d4;-webkit-text-stroke:0.3px #d0d0d0;">0.6%</div>
<div class="a" style="left:560.00px;top:72.30px;width:9.5px;height:281.00px;background:#595959"></div>
</div>
<div class="p" id="asg" style="left:911.40px;top:621.70px;width:577.60px;height:353.30px;">
<div class="hd" style="height:71.50px"></div>
<div class="a" style="left:24.96px;top:23.87px;font-size:24.50px;line-height:27.37px;font-weight:bold;color:#ececec;transform:scaleX(0.878);transform-origin:left;">Assigned System Health Alerts</div>
<svg class="a" style="left:520.10px;top:25.10px" width="32" height="27" viewBox="0 0 32 27"><g stroke="#cdcdcd" stroke-width="1.35" stroke-linejoin="round" fill="#515151"><path d="M6.75 11.00 C2.85 8.66 3.43 1.40 8.50 1.40 C13.57 1.40 14.15 8.66 10.25 11.00 C11.25 12.50 15.80 12.50 15.80 16.50 Q15.80 18.00 14.30 18.00 H2.70 Q1.20 18.00 1.20 16.50 C1.20 12.50 5.75 12.50 6.75 11.00 Z"/><path d="M17.85 11.00 C13.95 8.66 14.53 1.40 19.60 1.40 C24.67 1.40 25.26 8.66 21.36 11.00 C22.36 12.50 26.90 12.50 26.90 16.50 Q26.90 18.00 25.40 18.00 H13.80 Q12.30 18.00 12.30 16.50 C12.30 12.50 16.85 12.50 17.85 11.00 Z"/><path d="M11.84 17.70 C7.95 15.36 8.53 8.30 13.60 8.30 C18.67 8.30 19.25 15.36 15.36 17.70 C16.36 19.20 20.80 19.20 20.80 22.70 Q20.80 24.20 19.30 24.20 H7.90 Q6.40 24.20 6.40 22.70 C6.40 19.20 10.84 19.20 11.84 17.70 Z"/></g></svg>
<div class="a" style="left:16.60px;top:0;width:50.00px;height:1.5px;background:#35b035"></div>
<div class="a" style="left:78.60px;top:0;width:17.00px;height:1.5px;background:#a8a8a8"></div>
<div class="a" style="left:95.60px;top:0;width:482.00px;height:1.5px;background:#808080"></div>
<div class="a" style="left:0;right:0;top:136.20px;height:1px;background:#5b5b5b"></div>
<div class="a" style="left:0;right:0;top:201.50px;height:1px;background:#5b5b5b"></div>
<div class="a" style="left:0;right:0;top:265.10px;height:1px;background:#5b5b5b"></div>
<div class="a" style="left:12.80px;top:86.80px;width:103.2px;height:38px;background:#6eae0a;border-radius:3px"></div>
<div class="a" style="left:-435.60px;width:1000px;text-align:center;top:96.46px;font-size:16.40px;line-height:18.32px;font-weight:normal;color:#f4f4f4;transform:scaleX(0.870);transform-origin:center;-webkit-text-stroke:0.45px #f4f4f4;">Open</div>
<div class="a" style="left:138.80px;top:80.20px;width:46px;height:46px;border-radius:50%;background:#b65c40"></div>
<div class="a" style="left:-338.20px;width:1000px;text-align:center;top:95.28px;font-size:14.50px;line-height:16.20px;font-weight:normal;color:#f4f4f4;transform:scaleX(0.950);transform-origin:center;-webkit-text-stroke:0.4px #f4f4f4;">BB</div>
<div class="a" style="left:207.10px;top:96.87px;font-size:13.40px;line-height:14.97px;font-weight:normal;color:#d0d0d0;">File Event Monitor</div>
<div class="a" style="left:12.80px;top:151.60px;width:103.2px;height:38px;background:#6eae0a;border-radius:3px"></div>
<div class="a" style="left:-435.60px;width:1000px;text-align:center;top:161.26px;font-size:16.40px;line-height:18.32px;font-weight:normal;color:#f4f4f4;transform:scaleX(0.870);transform-origin:center;-webkit-text-stroke:0.45px #f4f4f4;">Open</div>
<div class="a" style="left:138.80px;top:145.80px;width:46px;height:46px;border-radius:50%;background:#55a085"></div>
<div class="a" style="left:-338.20px;width:1000px;text-align:center;top:160.88px;font-size:14.50px;line-height:16.20px;font-weight:normal;color:#f4f4f4;transform:scaleX(0.950);transform-origin:center;-webkit-text-stroke:0.4px #f4f4f4;">JS</div>
<div class="a" style="left:207.10px;top:162.47px;font-size:13.40px;line-height:14.97px;font-weight:normal;color:#d0d0d0;">Bandwidth Event Monitor</div>
<div class="a" style="left:12.80px;top:216.80px;width:103.2px;height:38px;background:#6eae0a;border-radius:3px"></div>
<div class="a" style="left:-435.60px;width:1000px;text-align:center;top:226.46px;font-size:16.40px;line-height:18.32px;font-weight:normal;color:#f4f4f4;transform:scaleX(0.870);transform-origin:center;-webkit-text-stroke:0.45px #f4f4f4;">Open</div>
<div class="a" style="left:138.80px;top:210.10px;width:46px;height:46px;border-radius:50%;background:#b65c40"></div>
<div class="a" style="left:-338.20px;width:1000px;text-align:center;top:225.18px;font-size:14.50px;line-height:16.20px;font-weight:normal;color:#f4f4f4;transform:scaleX(0.950);transform-origin:center;-webkit-text-stroke:0.4px #f4f4f4;">BB</div>
<div class="a" style="left:207.10px;top:226.77px;font-size:13.40px;line-height:14.97px;font-weight:normal;color:#d0d0d0;">SSH Event Monitor</div>
</div>
</div>
</body></html>
